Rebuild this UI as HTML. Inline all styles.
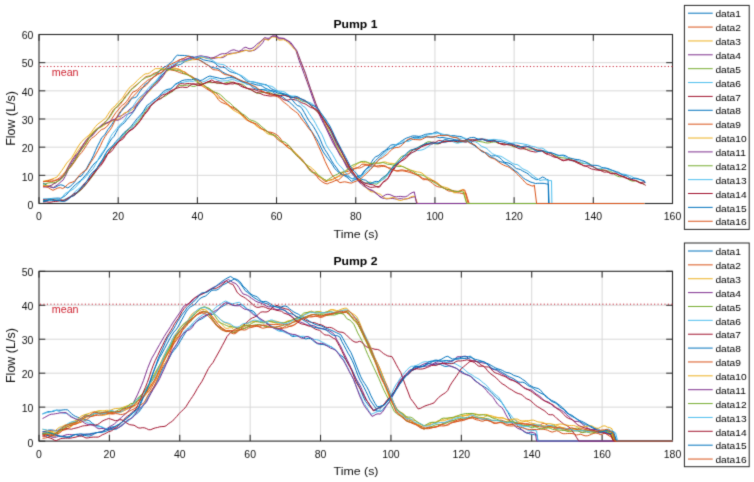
<!DOCTYPE html>
<html><head><meta charset="utf-8"><style>
html,body{margin:0;padding:0;background:#fff;width:754px;height:482px;overflow:hidden}
svg{display:block}
text{font-family:"Liberation Sans",sans-serif}
.tk{font-size:10.2px;fill:#111}
.lb{font-size:11.8px;fill:#111}
.yl{font-size:12.5px;fill:#111}
.tt{font-size:11.6px;font-weight:bold;fill:#000}
.lg{font-size:9.3px;fill:#000}
.mn{font-size:10.4px;fill:#cc1f2d}
</style></head><body>
<svg width="754" height="482" viewBox="0 0 754 482">
<defs><filter id="soft" x="0" y="0" width="754" height="482" filterUnits="userSpaceOnUse" color-interpolation-filters="sRGB"><feConvolveMatrix order="3" kernelMatrix="0.0169 0.0962 0.0169 0.0962 0.5476 0.0962 0.0169 0.0962 0.0169" edgeMode="duplicate"/></filter></defs>
<g filter="url(#soft)">
<rect width="754" height="482" fill="#fff"/>
<path d="M118.19 34.5V203.5M197.38 34.5V203.5M276.56 34.5V203.5M355.75 34.5V203.5M434.94 34.5V203.5M514.12 34.5V203.5M593.31 34.5V203.5M39.0 175.33H672.5M39.0 147.17H672.5M39.0 119.00H672.5M39.0 90.83H672.5M39.0 62.67H672.5" stroke="#d8d8d8" stroke-width="1" fill="none"/>
<path d="M39.00 203.5v-6.3M39.00 34.5v6.3M118.19 203.5v-6.3M118.19 34.5v6.3M197.38 203.5v-6.3M197.38 34.5v6.3M276.56 203.5v-6.3M276.56 34.5v6.3M355.75 203.5v-6.3M355.75 34.5v6.3M434.94 203.5v-6.3M434.94 34.5v6.3M514.12 203.5v-6.3M514.12 34.5v6.3M593.31 203.5v-6.3M593.31 34.5v6.3M672.50 203.5v-6.3M672.50 34.5v6.3M39.0 203.50h6.3M672.5 203.50h-6.3M39.0 175.33h6.3M672.5 175.33h-6.3M39.0 147.17h6.3M672.5 147.17h-6.3M39.0 119.00h6.3M672.5 119.00h-6.3M39.0 90.83h6.3M672.5 90.83h-6.3M39.0 62.67h6.3M672.5 62.67h-6.3M39.0 34.50h6.3M672.5 34.50h-6.3" stroke="#262626" stroke-width="1" fill="none"/>
<rect x="39.0" y="34.5" width="633.5" height="169.0" stroke="#262626" stroke-width="1.1" fill="none"/>
<text transform="translate(39.00 220.10) scale(1.03 1)" class="tk" text-anchor="middle">0</text>
<text transform="translate(118.19 220.10) scale(1.03 1)" class="tk" text-anchor="middle">20</text>
<text transform="translate(197.38 220.10) scale(1.03 1)" class="tk" text-anchor="middle">40</text>
<text transform="translate(276.56 220.10) scale(1.03 1)" class="tk" text-anchor="middle">60</text>
<text transform="translate(355.75 220.10) scale(1.03 1)" class="tk" text-anchor="middle">80</text>
<text transform="translate(434.94 220.10) scale(1.03 1)" class="tk" text-anchor="middle">100</text>
<text transform="translate(514.12 220.10) scale(1.03 1)" class="tk" text-anchor="middle">120</text>
<text transform="translate(593.31 220.10) scale(1.03 1)" class="tk" text-anchor="middle">140</text>
<text transform="translate(672.50 220.10) scale(1.03 1)" class="tk" text-anchor="middle">160</text>
<text transform="translate(33.40 208.90) scale(1.03 1)" class="tk" text-anchor="end">0</text>
<text transform="translate(33.40 180.60) scale(1.03 1)" class="tk" text-anchor="end">10</text>
<text transform="translate(33.40 152.30) scale(1.03 1)" class="tk" text-anchor="end">20</text>
<text transform="translate(33.40 124.00) scale(1.03 1)" class="tk" text-anchor="end">30</text>
<text transform="translate(33.40 95.70) scale(1.03 1)" class="tk" text-anchor="end">40</text>
<text transform="translate(33.40 67.40) scale(1.03 1)" class="tk" text-anchor="end">50</text>
<text transform="translate(33.40 39.10) scale(1.03 1)" class="tk" text-anchor="end">60</text>
<polyline points="43.0,183.1 46.5,185.0 48.8,186.4 51.2,186.9 53.5,187.7 55.9,187.1 58.3,185.6 60.7,184.8 63.1,185.4 65.4,186.8 67.8,187.9 70.2,186.4 72.6,184.3 75.0,181.5 77.0,178.2 79.1,176.6 81.2,176.1 83.1,173.6 85.0,170.7 86.8,168.1 89.0,163.8 91.2,160.1 93.3,155.8 95.5,150.5 97.6,145.8 99.7,141.9 101.7,137.7 104.8,134.8 108.1,129.3 110.0,127.0 111.9,124.3 113.8,121.2 115.7,118.7 117.6,116.4 119.5,113.8 121.3,111.3 123.0,109.0 125.3,106.9 127.5,104.8 129.2,102.4 131.0,99.2 132.9,97.9 134.7,97.7 136.6,96.8 138.5,93.7 140.4,90.8 142.2,88.6 143.9,86.0 145.5,83.9 147.8,82.6 150.0,80.5 151.6,79.0 153.2,77.7 155.5,75.2 157.7,72.9 159.9,70.8 162.1,68.4 164.2,67.2 166.3,66.1 168.5,64.4 170.7,62.8 172.9,60.5 175.1,57.2 177.3,55.2 179.7,55.4 182.1,55.4 184.6,55.5 187.1,55.9 189.4,56.3 191.7,56.6 194.0,57.2 196.3,58.2 198.7,59.8 201.1,60.8 203.5,62.2 205.9,64.1 208.3,65.3 210.7,66.8 213.1,67.8 215.6,68.0 218.0,68.5 220.4,70.3 222.9,72.2 225.4,73.5 227.9,74.7 230.4,76.1 232.9,77.0 235.4,77.8 237.8,79.3 240.3,80.4 242.8,81.3 245.3,83.1 247.5,84.4 249.7,84.3 251.8,83.6 254.0,84.1 256.2,84.8 258.3,85.2 260.5,85.3 262.7,86.4 264.9,88.0 267.2,89.0 269.4,89.9 271.6,91.1 273.8,92.6 275.9,94.3 278.1,95.4 280.4,96.0 282.7,97.0 285.0,98.8 287.3,100.8 289.5,102.1 291.8,104.2 294.1,106.4 296.4,108.7 298.6,110.9 300.9,113.3 303.1,117.3 305.3,120.8 307.5,124.4 309.8,128.5 312.0,131.9 314.2,135.3 316.5,138.7 318.7,142.6 320.9,147.4 323.2,151.9 325.4,155.1 327.7,158.4 330.0,161.2 332.3,164.5 334.6,168.3 336.7,170.6 338.9,172.4 341.1,173.7 343.2,174.8 345.4,175.3 347.6,176.3 349.8,177.5 352.0,178.8 354.3,178.0 356.5,176.7 358.8,175.9 361.0,175.6 363.1,172.5 365.3,169.8 367.4,168.0 369.5,165.4 371.7,161.7 373.8,158.5 375.9,156.6 378.1,155.8 380.2,154.0 382.3,152.1 384.4,150.9 386.5,149.4 388.6,147.1 390.7,145.2 393.0,144.7 395.4,144.9 397.7,144.1 400.0,142.1 402.1,140.7 404.1,139.4 406.2,138.2 408.2,137.5 410.3,136.7 412.3,136.0 414.4,135.9 416.6,136.1 418.9,136.4 421.1,136.1 423.4,135.1 425.6,134.3 427.9,134.0 430.1,133.7 432.4,133.6 434.6,132.5 436.9,131.9 439.2,133.3 441.4,134.9 443.5,135.1 445.6,135.0 447.6,135.4 449.7,135.8 451.8,135.7 453.8,135.6 455.9,136.0 457.8,136.3 459.8,136.4 461.8,136.8 463.7,138.1 465.7,139.4 468.3,140.8 471.0,142.0 472.9,144.0 474.9,146.0 476.9,147.3 478.9,148.8 480.9,150.4 482.8,151.3 484.8,152.6 486.8,154.5 488.7,156.1 490.7,157.1 492.7,157.7 494.7,158.5 496.7,159.6 498.7,161.1 500.7,161.8 502.8,162.3 504.8,163.3 506.8,164.3 508.9,165.8 510.9,167.4 513.0,169.2 515.0,170.8 517.1,172.0 519.2,173.8 521.3,176.0 523.5,178.1 525.7,179.6 527.9,180.6 530.1,181.9 532.8,182.7 535.5,183.5 537.7,183.3 539.8,183.3 542.0,183.3 544.2,183.4 546.4,183.9 548.4,184.2 549.1,203.5 644.4,203.5" stroke="#0072BD" stroke-width="1.0" fill="none" stroke-opacity="1.0" stroke-linejoin="round"/>
<polyline points="43.0,181.5 46.8,181.3 49.1,181.7 51.4,181.6 53.7,181.2 56.1,180.3 58.4,179.6 60.8,178.7 63.1,175.7 65.4,172.7 67.7,170.3 70.1,167.6 72.4,164.5 74.8,160.4 77.1,155.9 79.5,152.4 81.8,149.0 84.2,145.7 86.6,141.9 88.9,137.9 91.0,135.9 93.0,133.8 95.0,131.4 97.1,129.7 99.2,127.9 101.3,125.5 103.9,122.8 106.6,120.7 108.8,117.6 111.1,113.8 113.3,109.9 115.6,108.0 117.9,106.5 120.2,104.4 122.5,101.2 124.2,97.9 125.9,95.6 128.2,93.2 130.6,90.1 132.8,87.7 135.1,85.9 137.4,84.2 139.4,82.6 141.4,80.6 143.4,78.9 145.4,77.0 147.8,76.2 150.1,75.9 152.0,74.7 153.9,73.3 155.8,72.7 157.7,72.1 159.6,70.7 161.5,70.1 163.4,69.9 165.4,69.1 167.3,68.3 169.6,68.8 171.9,69.2 174.2,69.0 176.5,68.9 178.7,69.3 180.9,70.4 182.9,71.5 184.9,71.9 187.2,73.7 189.4,75.8 191.7,77.0 193.9,77.8 196.2,79.4 198.3,82.5 200.4,85.1 202.5,86.2 204.6,87.5 206.7,88.9 208.8,90.2 211.0,91.5 213.4,93.4 215.8,95.9 218.2,99.4 220.5,101.8 222.9,102.9 225.3,103.9 227.7,104.8 230.1,106.5 232.5,108.3 234.9,109.3 237.3,110.7 239.6,112.7 242.0,114.9 244.3,117.8 246.7,120.0 249.0,121.2 251.3,122.2 253.7,123.1 256.0,124.7 258.3,127.2 260.4,128.6 262.5,129.3 264.6,129.9 266.7,131.0 268.7,132.0 270.8,132.2 272.9,132.8 274.9,133.7 277.0,135.0 279.0,136.7 281.0,139.3 283.0,142.5 285.0,144.7 287.0,145.4 289.0,145.8 291.0,147.9 293.0,150.4 295.1,152.7 297.1,154.9 299.1,156.7 301.1,158.3 303.2,160.7 305.2,163.7 307.2,166.3 309.2,168.3 311.3,170.1 313.3,171.8 315.3,173.8 317.4,176.0 319.5,177.1 321.7,178.5 323.8,180.5 326.0,181.7 328.3,180.5 330.7,179.8 333.0,179.2 335.4,178.1 337.7,176.9 339.8,175.0 342.0,172.9 344.1,171.7 346.2,171.6 348.4,171.3 350.5,170.2 352.7,168.9 354.9,168.3 357.2,167.8 359.5,166.5 361.8,164.3 364.0,164.2 366.1,164.7 368.3,164.8 370.5,164.5 372.6,164.6 374.8,165.6 377.0,166.9 379.3,166.9 381.6,166.4 383.8,166.3 386.1,166.9 388.5,167.7 390.8,168.2 393.2,169.4 395.5,170.8 397.8,171.2 400.2,170.9 402.5,170.8 404.8,171.2 407.1,171.7 409.4,172.4 411.8,173.1 414.1,173.8 416.4,174.8 418.8,176.1 421.1,178.1 423.4,179.7 425.7,179.6 428.0,179.9 430.3,181.6 432.6,183.4 434.9,185.3 437.2,186.5 439.5,187.1 441.8,187.4 444.1,188.3 446.4,189.8 448.6,191.0 450.9,191.2 453.2,191.5 455.5,192.6 457.5,192.8 459.6,192.9 461.7,193.5 463.7,193.8 465.8,192.7 467.5,198.3 469.2,203.5 644.4,203.5" stroke="#D95319" stroke-width="1.0" fill="none" stroke-opacity="1.0" stroke-linejoin="round"/>
<polyline points="43.0,181.3 47.3,180.4 49.7,180.0 52.1,179.0 54.5,178.1 56.9,177.1 59.3,174.0 61.8,170.5 64.2,167.0 66.7,163.1 69.1,160.4 71.6,157.8 74.1,153.7 76.6,149.1 79.1,145.0 81.7,141.6 84.2,139.2 86.7,137.0 88.9,135.2 91.1,132.6 93.3,129.5 95.5,126.5 97.8,124.1 100.0,122.5 102.8,120.4 105.6,118.2 108.0,114.3 110.4,110.6 112.7,107.8 115.1,106.1 117.5,103.0 119.9,100.7 122.3,98.4 124.1,95.4 125.8,92.7 128.1,89.5 130.5,86.6 132.8,85.0 135.0,83.0 137.3,80.5 139.3,78.5 141.3,77.0 143.2,75.3 145.2,73.9 147.5,73.7 149.7,72.9 151.6,71.3 153.4,70.0 155.2,68.7 157.1,68.7 158.9,68.6 160.8,68.1 162.6,68.5 164.4,69.1 166.3,68.7 168.5,68.5 170.8,68.1 173.0,67.9 175.3,68.2 177.4,68.8 179.5,69.4 181.5,70.4 183.5,71.6 185.7,73.4 187.9,74.7 190.1,76.4 192.3,78.2 194.5,79.3 196.6,80.4 198.7,82.5 200.8,84.8 202.8,85.9 204.9,86.6 207.0,87.7 209.1,88.4 211.5,90.0 213.8,92.9 216.2,95.9 218.6,97.9 221.0,98.8 223.4,100.4 225.7,103.0 228.1,105.4 230.5,107.7 232.9,109.8 235.3,111.3 237.7,112.6 240.1,114.0 242.4,116.0 244.8,118.2 247.2,119.9 249.7,121.2 252.1,122.2 254.5,124.1 256.9,126.4 259.1,127.6 261.3,128.6 263.5,130.1 265.7,132.4 267.9,133.9 270.1,134.5 272.3,135.2 274.5,135.7 276.6,136.9 278.8,138.5 280.9,140.9 283.1,143.2 285.2,145.2 287.3,147.2 289.5,148.6 291.6,149.8 293.7,151.3 295.9,153.2 298.0,155.3 300.1,158.0 302.2,160.9 304.3,163.1 306.3,164.6 308.4,165.9 310.5,167.1 312.5,168.8 314.6,170.5 316.6,173.1 318.6,176.1 320.7,177.8 322.9,178.9 325.0,179.8 327.1,180.8 329.4,180.3 331.6,180.1 333.9,178.9 336.2,177.1 338.4,176.6 340.5,175.9 342.5,174.4 344.5,172.6 346.6,170.8 348.6,169.4 350.7,168.4 352.8,167.2 355.0,165.7 357.2,163.9 359.4,162.7 361.6,162.1 363.7,162.6 365.8,162.8 367.9,162.8 370.0,163.3 372.1,163.6 374.2,163.6 376.3,163.4 378.5,163.0 380.8,162.6 383.0,162.1 385.2,161.9 387.5,162.7 389.8,163.3 392.1,163.3 394.4,163.9 396.7,164.4 399.0,165.0 401.3,165.9 403.5,167.1 405.8,168.1 408.1,168.8 410.4,169.9 412.7,170.6 415.0,171.3 417.3,172.0 419.6,172.2 421.9,173.0 424.1,174.9 426.4,176.7 428.7,177.9 430.9,179.0 433.2,180.7 435.5,181.7 437.8,183.0 440.0,185.2 442.3,186.7 444.5,187.1 446.8,187.7 449.0,188.6 451.3,190.5 453.5,192.8 455.5,192.7 457.5,191.8 459.5,190.7 461.5,189.9 463.5,189.7 465.1,196.4 466.8,203.5 644.4,203.5" stroke="#EDB120" stroke-width="1.0" fill="none" stroke-opacity="1.0" stroke-linejoin="round"/>
<polyline points="43.0,185.6 46.5,185.7 48.8,186.4 51.1,187.2 53.4,187.7 55.3,186.3 57.2,185.0 59.1,183.4 61.1,181.6 63.0,180.2 65.2,176.4 67.5,171.6 69.7,166.6 72.0,162.7 74.2,159.3 76.5,155.6 78.4,152.7 80.3,149.7 82.2,146.5 84.2,143.6 86.2,140.9 88.2,138.4 90.2,136.3 92.2,134.0 94.3,131.4 96.7,129.0 99.2,127.2 101.4,126.0 103.5,124.6 105.7,123.4 108.0,122.9 110.2,121.9 112.2,120.7 114.3,119.5 116.3,117.7 118.3,116.6 120.3,116.1 122.4,115.1 124.4,113.9 126.5,112.5 128.8,110.1 131.2,108.2 133.5,107.0 135.6,105.1 137.6,102.6 139.7,99.8 141.7,97.0 143.7,94.7 145.7,92.3 147.6,91.0 149.6,90.0 151.6,88.3 153.5,86.1 155.9,83.7 158.2,80.8 160.6,77.4 162.9,74.2 165.2,71.7 167.5,69.9 169.9,68.8 172.2,66.8 174.5,64.9 176.9,63.3 179.0,62.1 181.2,61.2 183.2,60.8 185.3,60.0 187.3,58.8 189.7,57.6 192.2,57.2 194.6,57.5 196.9,57.9 199.1,57.3 201.4,56.6 203.8,57.3 206.2,57.9 208.6,58.2 211.1,58.8 213.4,58.5 215.8,58.0 218.2,57.6 220.6,57.7 222.9,57.5 225.3,56.2 227.7,54.4 230.1,53.3 232.4,53.2 234.8,53.0 237.2,52.7 239.5,52.0 241.8,51.0 244.2,50.3 246.5,50.4 248.5,51.1 250.5,51.1 252.5,50.6 254.4,50.3 256.9,48.4 259.3,46.4 261.1,44.7 262.9,42.4 264.7,39.3 266.8,39.3 268.9,39.7 270.6,37.7 272.4,36.1 274.2,36.1 276.0,36.2 278.5,38.8 280.9,38.8 283.3,38.6 285.4,39.8 287.4,40.9 289.5,42.4 291.5,44.8 293.6,47.2 295.6,49.4 297.4,55.2 299.3,61.0 301.8,67.7 304.3,74.4 306.8,81.2 309.3,88.1 312.0,95.9 314.8,103.7 317.0,109.0 319.2,114.4 321.4,119.2 323.6,123.5 325.9,128.0 328.3,133.0 330.7,138.2 333.0,143.0 335.4,147.1 337.7,150.6 340.1,154.2 342.5,158.3 344.8,163.3 347.2,167.9 349.6,170.5 351.9,173.2 354.3,176.2 356.7,179.5 359.1,182.3 361.4,184.1 363.8,186.2 366.1,187.5 368.4,188.9 370.8,190.4 373.1,191.5 375.4,193.0 377.8,194.8 380.1,196.9 382.4,198.2 384.5,198.4 386.5,198.9 388.6,198.7 390.6,198.5 392.7,198.5 394.7,198.8 396.8,199.2 399.0,198.8 401.3,198.7 403.5,199.2 405.7,199.0 408.0,198.7 410.2,197.9 412.5,197.3 414.8,196.5 417.1,203.5 644.4,203.5" stroke="#7E2F8E" stroke-width="1.0" fill="none" stroke-opacity="1.0" stroke-linejoin="round"/>
<polyline points="43.0,200.7 47.7,200.0 50.1,199.3 52.5,199.3 54.9,200.0 57.3,200.3 59.7,200.6 62.0,200.6 64.4,199.5 66.8,198.8 69.1,197.8 71.5,196.2 73.9,195.0 76.2,193.7 78.6,192.1 80.9,190.0 83.3,187.5 85.7,184.7 88.0,181.9 90.4,178.9 92.8,175.9 95.1,172.6 97.2,168.5 99.4,165.0 101.5,161.8 103.6,158.5 105.7,155.5 107.7,153.8 109.8,151.3 111.8,148.0 113.9,145.6 115.9,143.8 118.0,141.5 120.0,139.0 122.1,136.4 124.2,133.9 126.8,131.2 129.5,128.9 131.5,126.9 133.5,125.3 135.5,124.3 137.5,122.4 139.5,119.7 141.6,116.7 143.6,113.9 145.7,110.5 147.8,107.4 149.8,106.0 151.9,104.7 153.9,103.1 156.0,101.0 158.0,99.2 159.9,98.5 161.9,97.7 163.8,96.7 166.1,95.6 168.4,93.8 170.7,92.5 173.0,91.3 175.3,89.0 177.5,87.0 179.7,85.6 182.1,85.6 184.4,85.5 186.8,85.2 189.1,85.0 191.2,86.0 193.2,86.5 195.3,86.2 197.4,85.2 199.5,84.8 201.9,84.2 204.3,83.6 206.7,82.9 209.1,82.5 211.5,82.7 213.8,82.6 216.2,82.9 218.6,83.2 220.9,83.6 223.3,83.5 225.7,82.8 228.1,82.1 230.5,81.9 232.9,82.4 235.2,83.8 237.6,84.4 240.0,84.1 242.3,84.2 244.7,85.8 247.0,88.2 249.4,89.5 251.7,90.0 254.1,91.3 256.4,93.2 258.8,93.3 261.2,92.7 263.5,92.5 265.9,92.7 268.2,92.4 270.6,92.9 272.9,94.1 275.2,94.7 277.5,94.3 279.9,93.8 282.1,94.0 284.3,94.8 286.5,95.7 288.7,96.4 290.9,96.7 293.1,97.3 295.1,98.2 297.1,98.6 299.1,99.5 301.1,100.7 303.1,101.4 305.1,101.8 307.1,102.5 309.2,104.0 311.3,105.8 313.4,108.2 315.5,110.1 317.8,112.1 320.1,114.2 322.3,117.1 324.6,120.8 326.9,124.8 329.2,129.5 331.5,133.8 333.8,138.5 336.1,143.7 338.4,149.2 340.6,154.2 342.8,158.2 345.0,161.8 347.2,166.2 349.4,169.8 351.7,173.0 353.9,175.6 356.1,178.4 358.5,179.0 360.8,179.9 363.2,182.1 365.6,183.1 367.9,182.6 370.2,182.1 372.4,183.0 374.6,183.8 376.8,184.2 379.1,182.4 381.3,180.4 383.5,178.1 385.7,176.1 387.9,173.3 390.1,170.3 392.3,167.4 394.5,164.2 396.8,161.9 399.1,159.1 401.4,156.5 403.7,155.7 406.0,155.3 408.3,153.1 410.6,150.6 412.6,149.9 414.5,149.7 416.5,149.0 418.5,147.0 420.7,145.8 423.0,144.9 425.2,143.2 427.5,141.9 429.7,141.7 431.9,142.3 434.2,143.6 436.4,144.0 438.6,143.8 440.8,142.9 443.1,141.6 445.3,141.3 447.5,141.3 449.8,141.2 452.0,140.8 454.3,140.9 456.5,142.1 458.8,142.7 461.0,142.0 463.2,141.5 465.5,141.3 467.7,140.2 469.9,139.9 472.2,140.0 474.3,140.4 476.5,141.1 478.7,141.4 480.8,141.7 483.0,142.0 485.2,142.7 487.3,143.0 489.5,142.8 491.6,142.3 493.8,141.9 495.7,142.1 497.6,143.0 499.6,143.5 501.7,143.7 503.8,144.0 505.9,144.3 507.9,144.5 510.0,144.9 512.0,146.1 514.1,147.0 516.2,146.7 518.2,146.3 520.3,147.0 522.4,148.1 524.5,149.0 526.5,149.3 528.6,149.1 530.8,149.0 532.9,149.1 535.1,149.5 537.2,150.3 539.3,150.7 541.5,150.6 543.6,151.3 545.8,152.1 547.9,152.3 550.1,153.2 552.3,154.4 554.4,155.4 556.6,156.3 558.8,157.2 561.0,157.7 563.1,157.8 565.3,158.2 567.5,158.5 569.6,158.5 571.8,159.5 573.9,161.0 576.1,161.9 578.3,162.5 580.4,162.8 582.6,163.4 584.7,163.5 586.9,162.9 589.1,163.4 591.2,165.3 593.4,167.1 595.5,168.4 597.7,169.1 599.9,169.1 602.0,169.5 604.2,170.5 606.4,171.1 608.5,171.0 610.7,171.4 612.9,173.0 615.0,174.8 617.2,176.1 619.4,176.8 621.5,176.8 623.7,176.9 625.8,177.7 628.0,179.1 630.1,180.4 632.3,181.1 634.4,181.0 636.6,180.8 638.7,181.6 640.9,182.9 643.0,183.7 644.2,184.8" stroke="#77AC30" stroke-width="1.0" fill="none" stroke-opacity="1.0" stroke-linejoin="round"/>
<polyline points="43.0,201.8 47.1,201.2 49.4,200.5 51.7,200.5 54.1,200.6 56.4,200.5 58.8,200.8 61.1,201.0 63.5,200.0 65.8,198.9 68.2,197.6 70.5,196.2 72.9,194.4 75.3,191.4 77.6,189.6 80.0,187.9 82.4,185.5 84.7,183.2 87.1,181.1 89.5,178.4 91.9,175.0 94.4,172.0 96.5,168.8 98.6,165.9 100.8,163.0 102.9,158.8 105.1,154.3 107.2,151.6 109.3,149.2 111.3,147.1 113.4,145.2 115.5,143.4 117.6,141.4 119.7,139.0 121.8,136.6 123.9,134.6 126.6,132.8 129.2,131.3 131.2,129.4 133.2,126.1 135.3,123.1 137.3,120.6 139.3,118.5 141.4,115.6 143.5,112.2 145.6,109.2 147.7,107.1 149.7,105.9 151.8,103.8 153.9,101.6 155.9,99.3 158.0,97.0 159.9,95.7 161.8,94.3 163.8,93.0 166.1,91.9 168.4,90.6 170.8,89.0 173.1,87.0 175.4,84.7 177.7,83.6 180.0,82.9 182.4,82.5 184.8,81.9 187.2,81.5 189.6,81.1 191.7,81.5 193.8,81.2 196.0,80.3 198.1,80.7 200.2,82.0 202.7,81.9 205.2,81.1 207.7,79.7 210.2,78.2 212.6,78.4 215.1,78.9 217.5,80.1 220.0,81.0 222.4,81.0 224.9,80.8 227.3,80.8 229.8,79.9 232.3,79.6 234.7,80.1 237.2,81.1 239.6,81.3 242.1,82.0 244.5,83.2 246.9,84.2 249.3,84.8 251.7,85.3 254.2,86.5 256.5,88.4 258.9,89.6 261.3,89.6 263.7,89.6 266.1,89.2 268.5,89.6 270.9,91.1 273.2,91.6 275.5,91.2 277.9,91.0 280.2,91.2 282.5,91.5 284.7,92.1 286.9,93.7 289.1,95.4 291.2,96.2 293.4,96.0 295.6,96.1 297.5,97.1 299.5,98.6 301.4,100.3 303.4,101.3 305.3,101.3 307.3,101.7 309.2,102.4 311.3,103.2 313.4,104.7 315.4,107.1 317.5,109.1 319.7,112.2 321.9,115.0 324.1,118.3 326.3,121.8 328.6,126.0 330.8,131.7 333.0,136.7 335.3,141.4 337.5,145.8 339.8,149.5 341.9,153.0 344.0,157.2 346.2,161.9 348.3,166.5 350.5,170.5 352.7,174.3 354.9,177.3 357.1,180.3 359.4,181.3 361.7,181.7 364.0,182.5 366.3,183.2 368.7,183.6 370.9,183.2 373.1,183.1 375.3,182.9 377.5,182.7 379.7,180.9 381.9,180.1 384.1,178.9 386.3,176.9 388.5,174.0 390.7,171.2 393.0,168.2 395.2,165.1 397.5,162.7 399.8,160.3 402.1,158.1 404.5,156.1 406.8,155.2 409.2,154.7 411.5,153.2 413.6,151.5 415.6,150.5 417.7,150.5 419.7,150.3 422.0,149.9 424.4,149.0 426.7,147.6 429.0,146.0 431.3,144.3 433.6,143.3 435.9,143.3 438.2,143.1 440.5,142.5 442.8,142.4 445.0,142.6 447.3,141.8 449.6,141.3 451.9,141.3 454.1,142.2 456.4,143.2 458.6,142.9 460.9,142.3 463.1,142.0 465.3,141.8 467.5,141.8 469.7,141.1 471.9,140.3 474.1,139.6 476.2,138.9 478.3,138.5 480.4,138.6 482.5,138.8 484.6,139.0 486.7,139.5 488.8,139.8 490.9,139.7 493.0,139.4 495.1,139.4 497.0,139.8 498.8,140.0 500.7,140.1 502.8,140.4 504.8,140.9 506.9,141.6 508.9,142.5 510.9,143.2 512.9,143.1 514.9,142.9 516.9,142.9 519.0,143.3 521.0,143.6 523.0,143.9 525.0,144.3 527.1,144.7 529.1,145.3 531.2,146.2 533.3,146.5 535.4,147.0 537.5,147.9 539.6,148.3 541.7,148.1 543.8,148.8 545.8,150.5 547.9,152.1 550.1,153.1 552.2,153.5 554.3,153.7 556.4,154.6 558.6,155.7 560.7,155.8 562.8,155.5 564.9,156.8 567.0,158.5 569.1,159.8 571.3,160.7 573.4,161.0 575.5,160.7 577.6,160.6 579.7,161.5 581.8,162.5 583.9,163.3 586.0,163.6 588.1,164.1 590.3,165.1 592.4,166.4 594.5,167.5 596.6,168.2 598.8,169.0 600.9,168.7 603.1,167.8 605.2,167.9 607.4,169.1 609.6,169.9 611.8,170.5 613.9,171.4 616.1,172.3 618.4,173.3 620.6,174.0 622.8,174.1 625.0,174.3 627.2,175.0 629.5,175.5 631.7,176.5 634.0,177.9 636.2,178.9 638.5,179.2 640.7,179.8 643.0,181.1 644.3,182.6" stroke="#4DBEEE" stroke-width="1.0" fill="none" stroke-opacity="1.0" stroke-linejoin="round"/>
<polyline points="43.0,199.5 45.3,199.4 47.5,199.1 49.8,198.8 52.1,199.1 54.3,199.9 56.6,200.4 58.9,199.9 61.2,199.8 63.5,200.5 65.8,199.5 68.1,198.0 70.4,197.1 72.7,196.1 75.0,195.0 77.3,192.7 79.6,190.0 82.0,186.8 84.3,183.6 86.6,181.4 89.0,179.0 91.4,176.2 93.7,172.9 96.1,169.5 98.2,166.6 100.4,164.4 102.5,161.9 104.6,158.4 106.8,154.9 108.8,153.2 110.9,151.9 112.9,149.6 115.0,146.4 117.1,143.7 119.1,141.3 121.2,140.1 123.3,138.6 125.4,135.5 128.0,131.7 130.6,129.7 132.6,129.1 134.6,127.5 136.5,125.2 138.5,122.8 140.4,120.5 142.5,117.4 144.5,114.6 146.5,112.5 148.6,109.7 150.5,106.5 152.5,103.8 154.6,101.9 156.6,100.6 158.6,99.6 160.4,98.9 162.3,97.6 164.2,95.7 166.5,93.6 168.8,92.0 171.1,90.6 173.4,89.5 175.7,88.5 178.0,87.9 180.3,87.3 182.6,87.1 185.0,87.4 187.4,87.4 189.8,85.6 191.9,84.0 194.0,83.8 196.1,84.7 198.2,85.5 200.3,85.6 202.8,84.4 205.2,83.0 207.6,81.8 210.1,81.4 212.4,82.5 214.8,82.2 217.2,81.5 219.5,82.2 221.9,83.4 224.2,83.8 226.6,84.0 228.9,83.4 231.3,82.6 233.6,82.2 235.9,83.1 238.2,84.4 240.5,86.0 242.8,87.1 245.0,87.7 247.3,88.2 249.6,88.9 251.8,90.3 254.1,91.7 256.4,92.5 258.7,92.8 261.0,93.8 263.3,94.9 265.6,95.4 267.9,95.7 270.2,96.1 272.5,95.9 274.8,95.7 277.2,95.7 279.5,96.6 281.7,98.2 284.0,99.8 286.3,100.3 288.5,99.9 290.8,99.2 293.1,99.4 295.3,100.0 297.4,100.4 299.5,101.5 301.7,102.8 303.8,103.4 306.0,104.3 308.1,105.8 310.4,107.3 312.7,108.1 314.9,109.4 317.2,111.4 319.6,114.7 322.0,117.7 324.4,121.2 326.9,124.5 329.3,127.2 331.7,131.9 334.0,137.5 336.4,142.5 338.8,146.9 341.2,151.2 343.4,155.4 345.6,159.3 347.9,163.5 350.1,168.0 352.3,171.2 354.6,174.4 356.8,177.1 359.0,179.6 361.4,181.0 363.8,182.7 366.1,183.5 368.5,184.0 370.9,184.6 373.1,184.8 375.3,186.1 377.6,187.2 379.8,186.9 382.0,183.5 384.3,180.9 386.5,179.3 388.8,177.2 391.0,173.3 393.2,170.1 395.4,167.4 397.6,164.2 399.9,162.1 402.2,160.0 404.5,157.8 406.8,155.7 409.1,153.7 411.4,151.5 413.7,149.4 415.6,149.2 417.6,149.0 419.5,148.1 421.4,146.8 423.6,146.0 425.8,145.2 428.0,144.4 430.2,143.9 432.3,143.9 434.5,143.0 436.6,141.6 438.7,140.5 440.8,140.7 442.9,141.3 445.0,141.2 447.1,141.0 449.3,141.4 451.4,141.3 453.5,141.0 455.6,141.3 457.7,141.8 459.9,141.3 462.0,141.2 464.1,141.9 466.2,142.1 468.4,141.0 470.5,139.9 472.6,139.7 474.7,140.0 476.8,140.2 479.0,139.6 481.1,139.1 483.2,139.3 485.3,139.8 487.5,140.3 489.6,141.1 491.7,140.9 493.9,140.3 495.8,141.3 497.7,142.7 499.7,143.6 501.8,144.4 503.9,144.9 506.1,144.7 508.2,143.9 510.2,143.8 512.3,144.5 514.4,145.2 516.5,145.3 518.6,145.6 520.7,146.7 522.8,147.5 524.9,147.2 527.0,146.7 529.1,146.8 531.3,147.6 533.4,148.6 535.6,149.5 537.7,150.1 539.9,150.1 542.0,150.4 544.2,152.4 546.3,153.7 548.5,153.0 550.7,153.2 552.8,155.1 555.0,156.6 557.2,157.5 559.4,158.7 561.6,159.7 563.8,160.2 566.0,160.2 568.2,159.8 570.4,160.1 572.7,160.4 574.9,160.8 577.1,161.8 579.3,162.9 581.5,164.5 583.7,165.9 585.9,166.0 588.1,165.7 590.3,165.9 592.5,166.4 594.7,167.5 596.9,169.1 599.0,170.0 601.2,170.4 603.4,170.1 605.6,170.3 607.7,171.4 609.9,172.9 612.0,173.4 614.2,173.1 616.3,173.4 618.4,174.8 620.6,176.0 622.7,176.4 624.8,176.8 627.0,178.1 629.1,179.0 631.2,179.5 633.3,179.9 635.4,180.3 637.5,181.7 639.7,182.7 641.8,182.4 643.9,181.9 645.0,182.8" stroke="#A2142F" stroke-width="1.0" fill="none" stroke-opacity="1.0" stroke-linejoin="round"/>
<polyline points="43.0,201.0 46.5,200.5 48.7,199.3 51.0,198.5 53.4,198.3 55.8,198.2 58.2,198.1 60.6,198.3 63.0,197.1 65.4,195.6 67.9,193.0 70.4,189.8 72.9,187.2 75.3,184.8 77.8,182.8 80.3,180.8 82.8,178.3 85.3,175.5 87.9,172.3 90.4,168.7 92.9,165.2 95.4,162.5 97.9,160.4 100.3,157.1 102.6,153.5 104.9,149.9 107.2,146.1 109.5,142.0 111.8,138.6 114.0,136.3 116.1,132.5 118.3,128.5 120.5,125.8 122.6,124.3 124.8,122.3 126.9,119.4 129.1,117.0 131.4,114.4 133.8,111.2 136.1,107.5 138.5,104.2 140.8,100.9 143.1,97.7 145.4,95.0 147.8,91.8 150.1,88.5 152.5,85.6 154.8,83.4 157.1,80.9 159.5,77.8 161.8,75.2 164.1,73.1 166.4,71.0 168.7,69.8 171.1,68.3 173.4,66.9 175.7,65.5 178.1,65.0 180.4,64.5 182.8,63.0 185.1,61.3 187.4,60.4 189.7,59.8 192.1,58.7 194.4,57.4 196.6,57.2 198.9,57.8 201.1,58.7 203.5,59.8 206.0,60.4 208.4,60.8 210.8,61.3 213.2,62.0 215.6,63.6 217.9,66.0 220.3,67.2 222.7,67.1 225.1,67.7 227.5,69.8 229.9,71.6 232.3,72.4 234.6,73.0 237.0,73.7 239.4,74.9 241.7,76.8 244.1,78.9 246.4,80.8 248.5,81.7 250.5,81.7 252.5,81.7 254.6,82.3 256.6,82.8 258.6,83.2 260.7,83.6 262.8,84.3 264.9,84.5 267.0,85.1 269.1,87.1 271.2,88.7 273.3,89.6 275.4,90.5 277.5,91.2 279.8,92.4 282.0,94.0 284.2,95.2 286.5,96.0 288.7,96.6 290.9,98.4 293.2,101.0 295.4,103.8 297.7,105.7 299.9,106.2 302.2,108.8 304.4,112.6 306.7,116.8 308.9,120.7 311.1,123.3 313.4,126.5 315.6,130.3 317.9,134.6 320.2,139.4 322.4,144.9 324.7,149.4 327.0,152.8 329.3,156.6 331.6,160.8 333.9,164.4 336.0,167.1 338.2,170.3 340.4,173.2 342.6,175.1 344.8,175.9 347.0,177.2 349.2,179.2 351.4,181.4 353.6,180.4 355.9,179.1 358.2,178.1 360.4,177.2 362.6,174.2 364.7,170.7 366.9,168.5 369.0,167.4 371.2,165.6 373.3,163.0 375.5,160.5 377.7,158.5 379.8,156.3 382.0,154.2 384.1,152.3 386.3,150.2 388.4,149.0 390.6,148.4 393.0,147.6 395.4,145.8 397.8,144.5 400.2,143.7 402.3,143.0 404.4,141.9 406.5,141.1 408.6,140.0 410.7,138.4 412.8,137.7 414.9,137.2 417.2,137.3 419.5,137.8 421.8,137.6 424.0,136.8 426.3,136.7 428.5,137.0 430.8,137.1 433.0,136.9 435.3,136.6 437.5,137.3 439.8,137.8 442.0,137.4 444.0,137.7 446.1,138.1 448.1,138.4 450.1,138.7 452.1,139.0 454.2,139.6 456.2,139.9 458.1,140.0 460.1,140.0 462.0,140.4 464.0,140.8 465.9,140.9 468.6,142.0 471.2,143.6 473.2,144.9 475.3,145.8 477.3,147.4 479.3,149.3 481.3,151.1 483.3,152.3 485.4,152.7 487.4,153.2 489.4,154.6 491.5,156.0 493.6,155.8 495.6,155.7 497.7,156.5 499.8,157.8 501.8,159.7 503.9,161.9 506.0,162.7 508.1,162.9 510.2,163.8 512.3,164.9 514.3,166.9 516.4,168.6 518.4,169.0 520.5,169.6 522.6,170.9 524.7,172.0 526.8,173.0 529.0,174.6 531.1,176.8 533.7,178.3 536.3,179.6 538.3,179.5 540.3,178.4 542.4,177.0 544.4,177.7 546.4,179.3 548.1,179.7 548.6,203.5 644.4,203.5" stroke="#0072BD" stroke-width="1.0" fill="none" stroke-opacity="1.0" stroke-linejoin="round"/>
<polyline points="43.0,181.8 47.1,181.1 49.6,180.2 52.0,179.9 54.5,180.4 57.0,179.7 59.5,177.8 62.0,175.9 64.4,172.9 66.9,170.5 69.3,168.4 71.8,165.5 74.2,162.4 76.7,158.6 79.2,155.2 81.6,152.6 84.0,149.2 86.5,145.4 88.9,141.6 91.4,138.4 93.4,137.1 95.5,135.5 97.6,133.3 99.7,131.1 101.8,129.4 103.9,128.8 106.5,126.9 109.2,123.7 111.4,119.5 113.7,115.9 115.9,112.6 118.2,110.0 120.5,106.9 122.7,105.0 125.0,103.3 126.6,101.3 128.3,99.1 130.6,95.3 132.8,92.1 135.0,91.3 137.3,89.8 139.5,87.7 141.4,85.7 143.4,83.9 145.3,82.4 147.3,80.5 149.5,79.3 151.8,78.4 153.6,77.1 155.4,75.7 157.3,74.0 159.1,73.3 160.9,72.8 162.8,71.9 164.6,70.6 166.4,68.9 168.3,68.4 170.5,69.9 172.8,70.4 175.0,70.7 177.3,71.6 179.4,72.5 181.5,73.2 183.4,73.7 185.4,73.8 187.6,74.7 189.8,75.5 192.0,76.5 194.2,78.4 196.4,79.9 198.5,80.6 200.6,81.7 202.7,83.7 204.8,85.7 206.9,87.8 209.0,89.7 211.2,90.6 213.6,91.5 216.0,93.0 218.4,95.6 220.8,98.5 223.2,100.3 225.6,102.1 228.1,104.7 230.5,106.6 232.9,107.2 235.3,108.2 237.7,110.3 240.1,112.8 242.5,114.6 244.9,116.8 247.3,119.6 249.7,121.5 252.1,122.6 254.4,123.2 256.8,124.2 259.2,126.2 261.3,128.3 263.4,129.7 265.6,130.6 267.7,131.9 269.8,132.7 271.9,133.7 274.0,135.7 276.2,137.9 278.2,140.0 280.2,141.4 282.3,142.6 284.3,144.4 286.4,146.1 288.4,147.7 290.4,148.9 292.5,150.9 294.5,153.4 296.6,155.7 298.6,157.4 300.6,159.4 302.7,161.2 304.7,163.2 306.7,166.1 308.7,169.1 310.7,171.2 312.8,172.5 314.8,174.0 316.8,176.3 318.8,179.1 320.9,180.7 323.0,182.3 325.1,183.4 327.3,183.9 329.5,182.8 331.8,182.2 334.1,181.1 336.3,180.2 338.6,179.8 340.6,178.2 342.7,175.7 344.7,174.4 346.8,174.2 348.8,173.7 350.9,172.1 352.9,170.0 355.1,168.5 357.3,167.9 359.5,168.1 361.7,167.3 363.8,166.0 365.8,165.2 367.9,165.3 370.0,165.9 372.1,166.2 374.2,166.2 376.3,166.1 378.5,165.7 380.8,165.4 383.0,165.6 385.3,165.9 387.6,167.6 389.9,169.0 392.2,169.6 394.6,170.3 396.9,170.8 399.2,170.3 401.6,169.8 403.9,170.2 406.2,170.7 408.5,170.7 410.9,171.7 413.2,173.1 415.6,174.3 417.9,175.2 420.3,176.4 422.6,178.2 424.9,178.9 427.2,178.9 429.5,179.7 431.8,180.3 434.2,181.1 436.5,182.9 438.8,184.8 441.1,186.2 443.4,187.8 445.6,188.9 447.9,189.4 450.2,189.8 452.4,190.4 454.7,191.1 456.7,191.2 458.7,191.4 460.8,190.8 462.8,189.9 464.8,190.0 466.5,197.3 468.2,203.5 644.4,203.5" stroke="#D95319" stroke-width="1.0" fill="none" stroke-opacity="1.0" stroke-linejoin="round"/>
<polyline points="43.0,185.9 46.6,185.4 49.0,185.8 51.3,185.9 53.3,184.0 55.3,182.8 57.3,181.5 59.4,180.3 61.4,178.6 63.7,174.4 66.1,170.3 68.5,165.9 70.8,161.5 73.2,157.8 75.6,154.0 77.6,151.1 79.7,148.4 81.7,145.9 83.8,143.8 85.9,141.2 88.0,137.8 90.1,135.1 92.3,133.0 94.4,130.7 96.9,128.6 99.5,127.3 101.7,126.8 104.0,125.4 106.2,123.8 108.5,122.7 110.8,121.6 112.8,120.6 114.9,119.7 116.9,119.5 118.9,118.9 121.0,116.7 123.0,114.2 125.0,112.6 127.1,112.1 129.4,111.2 131.7,110.0 134.1,108.1 136.1,105.3 138.1,102.5 140.2,99.6 142.2,97.0 144.1,95.7 146.1,94.5 148.0,92.8 149.9,90.8 151.9,88.2 153.8,85.0 156.1,82.7 158.5,81.2 160.8,79.1 163.1,76.2 165.4,73.0 167.7,70.7 170.0,69.8 172.3,68.2 174.6,66.1 177.0,63.8 179.1,62.0 181.3,61.2 183.3,61.8 185.3,61.5 187.3,61.0 189.7,60.4 192.1,59.8 194.6,59.7 196.8,59.4 199.0,58.2 201.2,57.2 203.6,57.3 206.0,58.1 208.4,58.7 210.8,58.7 213.1,57.9 215.4,57.5 217.7,57.5 220.1,57.5 222.4,56.7 224.7,55.4 227.1,54.7 229.4,54.4 231.7,53.9 234.1,53.3 236.4,52.8 238.7,52.1 241.0,51.8 243.4,51.2 245.7,50.3 247.7,50.6 249.7,51.1 251.7,50.7 253.7,50.0 256.2,47.5 258.7,44.7 260.5,42.3 262.3,40.3 264.2,38.7 266.3,39.6 268.5,40.2 270.3,38.6 272.2,37.0 274.1,37.0 275.9,37.3 278.6,40.1 281.0,40.0 283.5,39.7 285.7,40.7 287.8,42.3 289.9,44.1 292.1,46.6 294.2,49.0 296.3,50.6 298.2,55.2 300.1,60.0 302.6,66.2 305.2,73.2 307.7,81.3 310.3,88.3 313.1,95.5 315.9,103.6 318.1,109.0 320.3,113.6 322.6,118.1 324.8,123.1 327.2,127.9 329.5,132.8 331.9,137.2 334.2,142.0 336.6,146.7 338.9,150.5 341.3,154.6 343.6,158.8 345.9,162.7 348.3,167.0 350.6,170.7 353.0,173.2 355.3,175.2 357.7,178.1 360.0,181.5 362.3,183.7 364.6,185.9 366.9,188.4 369.2,190.7 371.5,191.9 373.9,191.8 376.2,192.6 378.4,193.6 380.7,194.5 383.0,196.8 385.1,198.2 387.1,198.4 389.1,198.3 391.2,197.8 393.2,197.3 395.2,198.0 397.3,199.6 399.5,200.5 401.7,200.3 403.9,199.4 406.1,198.8 408.4,198.3 410.6,197.0 412.9,196.2 415.1,196.7 417.4,203.5 644.4,203.5" stroke="#EDB120" stroke-width="1.0" fill="none" stroke-opacity="1.0" stroke-linejoin="round"/>
<polyline points="43.0,186.9 47.1,187.0 49.5,186.0 51.8,185.1 53.9,183.6 56.0,182.9 58.0,180.9 60.1,178.6 62.1,177.7 64.5,174.4 66.9,169.9 69.3,165.2 71.6,161.1 74.0,157.5 76.4,154.4 78.4,152.4 80.5,149.4 82.5,145.9 84.6,142.4 86.7,139.4 88.8,137.7 90.9,136.7 93.0,134.9 95.1,132.2 97.6,129.3 100.2,126.4 102.4,124.6 104.6,123.9 106.8,122.9 109.1,121.8 111.4,120.4 113.4,119.5 115.4,119.9 117.5,120.3 119.5,119.6 121.5,118.3 123.5,116.9 125.6,115.3 127.6,114.2 129.9,113.2 132.2,112.3 134.5,109.4 136.6,105.2 138.6,102.6 140.6,101.3 142.6,98.9 144.5,96.0 146.5,93.0 148.4,90.8 150.3,89.0 152.2,87.6 154.1,85.9 156.4,84.1 158.8,81.4 161.1,78.5 163.4,75.6 165.6,71.5 167.9,68.4 170.2,67.8 172.5,67.2 174.8,65.6 177.1,62.8 179.2,60.3 181.4,59.0 183.3,59.1 185.3,59.3 187.3,59.0 189.7,58.8 192.1,58.6 194.5,57.4 196.7,56.7 198.9,56.1 201.1,55.8 203.5,56.3 205.9,56.7 208.3,57.1 210.7,57.9 213.0,57.8 215.3,56.8 217.7,55.7 220.0,54.4 222.3,53.7 224.7,53.8 227.1,53.1 229.4,51.4 231.8,50.2 234.1,49.8 236.5,50.7 238.8,51.4 241.2,50.3 243.5,48.1 245.9,47.2 247.9,48.3 250.0,48.9 252.0,48.3 254.1,47.1 256.6,44.4 259.1,42.6 260.9,41.2 262.8,39.3 264.7,37.6 266.9,38.2 269.1,38.3 270.9,36.8 272.8,36.1 274.7,36.1 276.6,36.1 279.2,37.8 281.7,38.1 284.2,38.4 286.3,39.8 288.4,40.9 290.6,42.3 292.6,45.0 294.7,48.1 296.8,50.7 298.6,55.5 300.5,60.6 303.0,67.1 305.5,73.2 307.9,80.8 310.4,88.3 313.1,96.1 315.8,103.6 317.9,108.5 320.0,113.4 322.1,118.4 324.2,123.5 326.5,127.9 328.7,132.3 331.0,136.4 333.2,140.9 335.4,145.9 337.7,150.8 339.9,155.1 342.2,158.3 344.4,161.6 346.7,165.6 349.0,169.2 351.3,172.5 353.6,175.1 355.9,177.7 358.2,180.5 360.5,182.0 362.8,183.6 365.2,186.2 367.5,188.4 369.8,189.5 372.2,190.2 374.5,191.7 376.8,193.8 379.2,196.0 381.5,197.3 383.6,196.0 385.7,194.7 387.8,194.3 389.9,194.6 392.0,195.5 394.1,196.5 396.2,196.9 398.4,196.5 400.7,196.4 403.0,196.8 405.2,196.8 407.5,195.9 409.8,194.0 412.0,192.7 414.3,191.9 416.6,203.5 644.4,203.5" stroke="#7E2F8E" stroke-width="1.0" fill="none" stroke-opacity="1.0" stroke-linejoin="round"/>
<polyline points="43.0,184.3 45.8,183.6 48.3,183.0 50.8,182.7 53.3,182.8 55.9,182.2 58.4,180.9 60.9,179.5 63.4,176.9 65.9,173.5 68.4,169.5 70.9,165.6 73.4,162.5 75.9,158.9 78.4,154.3 80.9,150.4 83.3,147.3 85.8,144.0 88.2,139.9 90.7,135.8 92.8,133.3 94.9,131.0 97.0,129.3 99.1,128.1 101.2,126.7 103.3,124.8 105.9,121.4 108.6,118.6 110.8,115.5 113.0,112.0 115.3,108.4 117.5,106.0 119.8,103.2 122.0,101.0 124.3,99.1 125.9,96.7 127.6,94.8 129.8,91.7 132.0,88.9 134.2,87.4 136.4,85.4 138.6,83.3 140.5,81.3 142.4,79.6 144.4,78.6 146.3,77.4 148.5,76.8 150.8,76.1 152.6,75.1 154.5,74.4 156.3,73.2 158.2,71.7 160.0,70.0 161.9,69.1 163.8,69.2 165.7,69.6 167.6,69.4 169.8,69.4 172.1,69.5 174.4,70.0 176.8,70.6 178.9,70.7 181.1,71.4 183.1,73.1 185.1,74.1 187.4,74.9 189.6,75.6 191.8,77.2 194.1,79.6 196.3,81.7 198.4,83.0 200.5,83.6 202.6,84.3 204.7,85.7 206.8,87.2 208.9,88.2 211.0,89.9 213.4,91.8 215.8,92.5 218.2,93.3 220.6,94.9 223.0,97.1 225.4,99.6 227.8,101.5 230.2,103.2 232.6,105.6 235.0,108.0 237.4,109.7 239.8,111.7 242.2,113.8 244.6,115.2 247.0,117.2 249.4,119.4 251.8,120.5 254.2,121.1 256.6,122.4 259.0,124.2 261.1,126.2 263.3,128.0 265.5,129.7 267.6,132.0 269.8,133.7 271.9,134.4 274.0,134.9 276.2,136.2 278.2,138.5 280.3,140.5 282.3,141.5 284.4,141.9 286.4,143.1 288.4,145.1 290.5,147.5 292.5,150.7 294.5,153.4 296.5,155.2 298.5,156.8 300.5,158.6 302.5,160.8 304.4,162.8 306.4,164.5 308.3,167.3 310.3,170.6 312.2,172.6 314.2,172.7 316.1,173.2 318.1,174.9 320.2,176.4 322.2,177.9 324.3,179.4 326.4,180.6 328.6,179.3 330.8,177.8 333.1,176.2 335.3,175.2 337.6,174.2 339.6,172.7 341.7,172.3 343.7,171.9 345.8,170.6 347.9,169.0 349.9,167.2 352.0,165.5 354.3,164.5 356.5,163.5 358.8,162.6 361.0,161.6 363.2,161.4 365.3,161.4 367.5,162.3 369.6,163.5 371.8,163.5 373.9,162.9 376.1,162.9 378.4,163.3 380.7,163.0 382.9,162.5 385.2,163.2 387.5,164.3 389.9,164.4 392.2,164.8 394.5,165.5 396.8,166.2 399.1,166.5 401.4,166.4 403.7,166.8 406.0,168.2 408.2,169.5 410.5,170.4 412.8,171.2 415.1,172.8 417.4,174.4 419.6,174.7 421.9,175.0 424.1,175.9 426.3,177.4 428.5,179.2 430.8,180.6 433.0,181.8 435.2,183.0 437.5,184.5 439.7,185.9 442.0,187.2 444.2,188.3 446.4,189.3 448.6,189.7 450.9,190.2 453.1,191.0 455.1,191.3 457.2,191.6 459.2,191.4 461.2,191.7 463.3,192.0 465.0,198.2 466.7,203.5 644.4,203.5" stroke="#77AC30" stroke-width="1.0" fill="none" stroke-opacity="1.0" stroke-linejoin="round"/>
<polyline points="43.0,198.9 46.5,198.7 48.7,198.8 50.8,198.7 53.1,198.6 55.5,198.9 57.9,199.4 60.2,199.1 62.6,197.0 64.9,193.7 67.3,192.3 69.6,191.3 72.0,189.9 74.4,188.4 76.7,186.0 79.1,183.2 81.4,180.5 83.8,178.8 86.1,176.6 88.5,173.4 90.8,171.2 93.2,168.6 95.6,164.2 97.9,159.9 100.0,155.9 102.2,152.7 104.3,149.9 106.5,146.2 108.6,141.3 110.8,136.4 112.8,133.3 114.9,130.9 116.9,128.4 119.0,125.6 121.0,123.9 123.1,122.2 125.1,119.3 127.2,115.4 129.5,111.3 131.8,108.1 134.1,104.6 136.5,101.0 138.8,98.1 141.1,96.0 143.5,94.2 145.9,91.3 148.3,88.4 150.7,85.6 153.1,83.6 155.6,81.3 158.0,78.2 160.5,75.0 162.9,71.9 165.4,68.8 167.9,67.5 170.4,66.1 173.0,64.6 175.5,63.5 178.1,62.6 180.7,61.8 183.3,61.5 185.9,60.7 188.5,59.7 191.1,59.1 193.8,58.4 196.4,57.4 198.9,57.0 201.5,56.5 204.0,56.9 206.7,58.0 209.5,58.7 212.2,60.1 214.9,62.0 217.6,63.7 220.2,64.3 222.9,64.5 225.5,65.6 228.1,67.9 230.8,69.7 233.3,71.2 235.9,72.9 238.5,74.4 241.0,75.4 243.6,76.7 246.0,78.8 248.5,80.7 251.0,81.8 253.4,82.2 255.5,82.2 257.5,83.2 259.6,84.1 261.6,84.1 263.7,84.3 265.7,85.4 267.7,85.8 269.7,85.9 271.8,86.4 273.9,87.6 275.9,89.4 278.0,91.3 280.0,92.4 282.0,93.0 284.0,93.9 286.1,94.7 288.3,95.1 290.4,95.7 292.5,96.7 294.6,97.9 296.7,100.0 298.8,102.2 301.0,104.4 303.1,106.2 305.2,107.4 307.2,110.3 309.3,113.8 311.4,116.8 313.5,119.9 315.6,123.5 317.7,127.6 319.7,130.9 321.8,134.3 323.9,139.0 326.0,144.4 328.2,148.2 330.3,151.2 332.4,154.3 334.6,158.1 336.8,162.2 338.8,164.7 340.9,166.8 342.9,168.9 345.0,171.9 347.1,174.2 349.2,176.5 351.3,178.2 353.4,179.2 355.6,178.0 357.8,177.2 359.9,176.6 362.1,175.7 364.2,173.6 366.2,171.8 368.3,170.2 370.4,168.5 372.5,166.3 374.6,164.4 376.7,162.3 378.7,160.0 380.8,157.4 382.9,155.4 385.1,153.9 387.2,151.3 389.3,149.1 391.5,147.8 393.8,146.2 396.2,144.5 398.6,143.1 401.0,141.5 403.2,140.9 405.3,141.4 407.5,141.6 409.6,141.0 411.8,139.8 414.0,138.7 416.1,138.3 418.5,138.5 420.9,137.9 423.3,136.7 425.6,135.7 428.0,134.9 430.4,134.4 432.7,133.8 435.1,133.7 437.5,133.3 439.8,133.1 442.2,134.0 444.5,134.5 446.7,134.5 448.8,134.9 451.0,135.7 453.2,136.6 455.3,137.3 457.5,138.0 459.6,138.3 461.7,138.2 463.7,137.8 465.8,138.4 467.9,139.9 470.0,140.9 472.7,141.5 475.5,141.9 477.7,143.1 479.8,144.9 481.9,146.5 484.0,147.2 486.1,148.1 488.2,149.7 490.3,152.0 492.4,153.7 494.5,154.6 496.6,155.5 498.7,155.9 500.8,156.3 502.8,157.3 504.9,158.7 506.9,159.9 509.0,161.1 511.0,162.3 513.0,163.7 515.0,164.3 517.0,164.5 519.0,165.6 521.0,167.5 522.9,168.9 524.9,169.8 526.8,170.6 528.9,172.0 530.9,173.7 533.0,175.5 535.0,177.2 537.5,178.8 540.0,180.5 541.9,180.1 543.9,179.8 545.9,179.9 547.8,180.1 549.8,180.6 551.5,180.6 551.9,203.5 644.4,203.5" stroke="#4DBEEE" stroke-width="1.0" fill="none" stroke-opacity="1.0" stroke-linejoin="round"/>
<polyline points="43.0,201.9 46.5,201.8 48.8,202.2 51.1,202.1 53.4,201.6 55.6,201.5 57.9,201.2 60.2,200.7 62.5,200.6 64.8,201.0 67.0,199.7 69.3,197.6 71.6,195.7 73.8,193.9 76.1,192.8 78.4,191.3 80.7,189.8 83.0,187.6 85.3,184.9 87.6,182.3 89.9,179.0 92.2,175.8 94.6,172.8 97.0,169.9 99.1,167.4 101.2,165.1 103.3,162.0 105.5,158.4 107.6,154.1 109.7,150.4 111.8,148.2 113.9,146.6 116.0,144.3 118.1,141.9 120.2,140.1 122.3,138.1 124.5,135.7 126.6,133.6 129.3,131.4 132.0,129.4 134.0,127.5 136.0,125.2 138.1,123.3 140.1,120.9 142.1,117.7 144.2,114.4 146.3,111.7 148.4,108.9 150.5,105.8 152.6,104.2 154.6,102.7 156.7,100.5 158.7,98.1 160.8,96.1 162.7,94.9 164.6,94.2 166.5,94.1 168.8,93.1 171.1,91.6 173.4,90.5 175.7,88.2 178.0,85.1 180.3,83.7 182.5,83.7 184.8,84.1 187.2,83.5 189.5,83.5 191.9,84.0 193.9,84.3 196.0,84.0 198.1,83.8 200.1,84.2 202.2,84.4 204.6,83.2 207.0,82.3 209.4,81.1 211.8,79.9 214.2,81.4 216.5,83.0 218.8,83.1 221.2,82.8 223.5,83.6 225.9,84.2 228.2,84.0 230.5,83.8 232.9,84.0 235.2,83.4 237.6,83.3 239.9,84.0 242.2,85.6 244.5,87.2 246.9,88.4 249.2,88.9 251.5,89.0 253.9,89.4 256.2,90.2 258.5,91.1 260.9,91.3 263.3,92.1 265.6,92.8 268.0,93.1 270.4,93.8 272.8,94.3 275.1,94.6 277.5,95.6 279.9,95.8 282.2,95.3 284.5,95.3 286.8,95.9 289.0,96.8 291.3,97.4 293.5,97.6 295.8,97.8 297.9,98.0 299.9,98.2 302.0,99.3 304.0,100.6 306.1,101.3 308.1,102.8 310.1,104.8 312.3,107.0 314.4,108.3 316.5,109.4 318.7,111.4 320.9,115.1 323.2,118.4 325.5,121.8 327.7,125.6 330.0,129.1 332.3,132.8 334.5,137.0 336.8,141.7 339.0,146.0 341.3,150.6 343.4,155.4 345.6,159.7 347.7,164.1 349.8,168.5 352.0,171.1 354.2,174.1 356.4,177.1 358.6,180.4 360.9,182.1 363.2,183.6 365.5,185.0 367.9,186.3 370.2,187.3 372.4,187.3 374.6,187.0 376.8,186.6 379.1,186.6 381.3,184.2 383.5,182.0 385.8,180.8 388.0,178.6 390.3,173.8 392.5,169.7 394.8,166.8 397.0,164.1 399.4,162.5 401.7,160.9 404.1,159.6 406.4,157.9 408.8,155.2 411.2,153.1 413.5,152.0 415.6,151.1 417.6,149.4 419.7,147.9 421.7,146.2 424.0,144.9 426.3,144.5 428.6,143.9 430.9,142.7 433.2,142.0 435.4,142.6 437.7,143.7 439.9,143.4 442.1,142.3 444.3,141.9 446.5,141.6 448.7,141.0 450.9,140.6 453.1,140.4 455.3,140.8 457.5,140.8 459.6,140.6 461.8,140.9 463.9,140.8 466.0,139.7 468.2,139.1 470.3,140.3 472.4,141.3 474.6,140.4 476.6,139.6 478.7,139.6 480.8,139.3 482.8,139.3 484.9,140.2 487.0,141.2 489.1,141.3 491.2,141.2 493.3,141.1 495.4,140.9 497.3,141.8 499.2,143.3 501.1,143.6 503.2,143.8 505.3,144.1 507.5,144.7 509.5,145.0 511.7,145.1 513.8,146.1 515.9,147.2 518.0,148.2 520.1,148.9 522.3,148.8 524.4,148.7 526.6,149.6 528.7,150.6 530.9,151.2 533.1,151.6 535.3,152.1 537.5,151.7 539.7,150.9 541.9,151.0 544.1,152.5 546.3,154.0 548.5,154.6 550.7,155.4 552.9,156.6 555.1,157.3 557.3,157.6 559.5,158.8 561.7,160.3 563.8,160.8 566.0,159.8 568.2,159.3 570.3,160.1 572.5,160.7 574.6,161.5 576.8,162.7 578.9,163.7 581.0,164.5 583.2,165.3 585.3,166.0 587.4,166.7 589.5,168.0 591.6,169.0 593.7,169.4 595.8,169.9 597.9,170.1 600.1,170.3 602.2,171.3 604.3,172.2 606.4,172.0 608.5,172.4 610.6,173.6 612.7,173.9 614.8,173.6 616.9,174.1 619.0,175.1 621.2,175.9 623.3,177.0 625.4,178.0 627.5,178.6 629.6,179.0 631.7,179.9 633.8,180.6 635.9,180.7 638.0,181.6 640.2,183.1 642.3,183.6 644.4,184.1 645.5,185.6" stroke="#A2142F" stroke-width="1.0" fill="none" stroke-opacity="1.0" stroke-linejoin="round"/>
<polyline points="43.0,201.5 47.0,200.7 49.4,199.9 51.9,199.9 54.3,200.4 56.7,200.3 59.2,200.3 61.6,201.4 64.0,201.3 66.4,200.6 68.8,198.9 71.2,196.7 73.6,195.7 76.0,193.4 78.4,190.8 80.8,188.6 83.2,186.2 85.6,183.1 88.0,179.1 90.3,175.1 92.7,172.2 95.1,170.3 97.3,167.7 99.4,164.0 101.5,160.9 103.6,157.8 105.7,153.7 107.7,150.2 109.8,148.3 111.8,146.8 113.8,144.3 115.9,141.5 117.9,139.6 119.9,137.6 122.0,135.0 124.1,132.5 126.7,130.4 129.3,128.3 131.2,126.2 133.2,123.7 135.2,121.1 137.2,118.6 139.1,116.5 141.2,114.2 143.3,111.5 145.3,108.1 147.4,105.0 149.4,103.8 151.5,102.2 153.5,100.2 155.6,98.8 157.7,97.4 159.6,95.5 161.5,93.3 163.4,91.6 165.8,90.0 168.1,89.2 170.5,88.9 172.8,87.2 175.1,84.3 177.4,83.1 179.7,81.9 182.1,80.6 184.5,80.0 186.9,79.8 189.3,79.7 191.5,79.8 193.6,79.2 195.8,78.7 197.9,79.3 200.0,80.6 202.5,79.9 205.0,78.4 207.5,76.9 209.9,76.0 212.4,76.6 214.8,77.2 217.2,77.7 219.6,78.3 222.0,78.8 224.5,78.7 226.9,77.9 229.3,77.6 231.8,77.7 234.2,78.0 236.6,79.0 239.0,80.0 241.4,81.5 243.8,82.2 246.1,82.3 248.5,83.2 250.9,85.6 253.3,87.8 255.6,88.8 258.0,89.5 260.4,89.5 262.8,89.6 265.2,90.3 267.6,91.1 270.0,90.9 272.3,90.7 274.7,91.5 277.1,92.8 279.4,93.4 281.8,93.4 284.1,93.9 286.3,94.4 288.6,95.5 290.8,97.2 293.1,97.4 295.3,96.6 297.4,96.7 299.5,97.9 301.5,99.1 303.6,99.6 305.7,100.9 307.7,102.8 309.8,103.9 311.9,105.1 314.1,106.0 316.3,107.1 318.4,109.0 320.7,112.7 323.0,115.8 325.3,118.9 327.6,122.5 329.9,126.0 332.2,130.7 334.5,135.8 336.8,140.7 339.1,145.0 341.4,149.4 343.6,153.4 345.7,157.4 347.8,161.4 350.0,165.8 352.2,169.0 354.3,171.4 356.5,173.6 358.6,177.0 360.9,178.9 363.2,179.7 365.5,180.2 367.8,181.7 370.1,183.6 372.2,182.9 374.3,181.7 376.4,181.4 378.6,181.6 380.7,179.3 382.8,177.5 384.9,176.2 387.1,174.5 389.2,171.6 391.2,169.1 393.3,166.7 395.4,164.6 397.6,163.1 399.8,160.4 402.0,157.8 404.2,155.7 406.4,153.4 408.6,151.4 410.8,150.0 412.7,149.6 414.6,148.9 416.6,148.1 418.5,147.3 420.6,146.2 422.8,145.0 425.0,143.9 427.2,143.3 429.4,143.1 431.6,142.9 433.8,143.1 435.9,143.2 438.1,143.0 440.3,142.4 442.5,140.9 444.7,139.6 447.0,139.9 449.2,140.5 451.4,140.7 453.7,140.4 455.9,140.4 458.2,140.8 460.4,140.8 462.6,141.0 464.9,140.7 467.1,139.3 469.3,137.9 471.6,137.5 473.8,137.4 475.9,138.1 478.1,139.7 480.3,140.1 482.5,139.4 484.7,140.2 486.8,140.9 489.0,140.6 491.2,140.5 493.3,140.9 495.3,141.2 497.2,141.3 499.1,141.4 501.3,141.7 503.4,142.1 505.5,142.7 507.5,143.4 509.6,143.8 511.7,143.8 513.8,144.3 515.8,145.6 517.9,146.8 520.0,147.1 522.1,146.7 524.2,146.1 526.3,146.0 528.4,146.9 530.6,147.9 532.8,148.8 534.9,150.4 537.1,151.3 539.3,151.5 541.5,151.0 543.7,150.7 545.9,151.8 548.1,152.4 550.3,152.4 552.6,153.1 554.8,154.1 557.1,155.0 559.3,155.4 561.6,155.2 563.8,155.2 566.0,156.0 568.3,157.5 570.5,158.2 572.8,158.7 575.0,159.3 577.2,159.5 579.5,159.8 581.7,160.7 583.9,161.3 586.1,162.1 588.4,163.6 590.6,164.9 592.8,165.3 595.0,165.3 597.1,165.5 599.3,166.1 601.5,167.3 603.7,168.0 605.9,168.1 608.0,168.5 610.2,169.4 612.3,170.3 614.5,171.0 616.6,171.8 618.8,172.4 620.9,173.9 623.1,175.1 625.2,175.4 627.3,176.2 629.4,177.6 631.6,178.6 633.7,178.4 635.8,178.2 637.9,178.7 640.0,179.6 642.1,180.1 644.2,180.7 645.4,182.9" stroke="#0072BD" stroke-width="1.0" fill="none" stroke-opacity="1.0" stroke-linejoin="round"/>
<polyline points="43.0,186.6 45.6,186.6 48.1,187.4 50.5,189.1 53.0,190.3 55.4,189.2 57.8,188.0 60.3,187.7 62.7,188.5 65.1,187.1 67.4,184.6 69.8,182.9 72.2,182.2 74.5,181.3 76.9,178.4 79.3,175.4 81.6,173.0 84.0,171.4 86.4,169.9 88.7,165.8 91.1,161.8 93.5,158.4 95.9,154.2 98.2,150.1 100.5,145.6 102.9,140.3 105.1,136.5 107.2,133.6 109.4,130.8 111.6,127.7 114.1,122.6 116.6,117.4 119.0,113.2 121.3,110.2 123.5,107.4 125.7,105.1 127.9,102.3 130.2,99.3 132.5,97.0 134.8,94.8 137.1,92.2 139.4,89.5 141.7,88.0 143.9,86.8 146.2,85.3 148.4,82.8 150.7,79.7 152.9,77.5 155.2,76.2 157.4,74.7 159.7,73.5 162.0,72.0 164.3,69.8 166.7,67.2 169.0,65.1 171.4,64.0 173.9,62.8 176.5,61.5 179.0,60.0 181.5,59.3 184.0,58.3 186.5,56.9 189.0,56.1 191.4,57.6 193.8,58.8 196.2,59.4 198.6,59.7 201.0,61.0 203.5,62.7 205.9,64.1 208.3,65.5 210.7,67.7 213.1,69.6 215.5,69.9 217.9,70.1 220.3,71.4 222.7,73.3 225.1,74.6 227.6,75.0 230.0,75.3 232.4,76.1 234.9,77.4 237.3,78.7 239.7,79.8 242.2,81.1 244.6,81.8 247.0,82.8 249.2,83.7 251.3,84.9 253.4,85.9 255.6,86.7 257.7,88.4 259.9,90.1 262.0,90.9 264.3,92.0 266.5,93.3 268.8,94.2 271.0,94.9 273.3,95.5 275.5,96.1 277.8,96.9 280.0,98.2 282.2,100.8 284.4,102.6 286.6,104.1 288.9,106.4 291.0,108.3 293.2,110.0 295.4,111.6 297.6,113.2 299.6,116.1 301.7,119.1 303.7,121.7 305.7,124.0 307.8,127.1 309.8,129.8 311.8,132.0 314.0,136.4 316.3,141.3 318.5,146.3 320.8,151.2 323.0,156.3 325.1,161.4 327.3,166.1 329.4,170.2 331.5,174.2 333.6,176.6 335.7,179.3 337.9,181.2 340.0,182.7 342.3,182.2 344.6,181.8 346.9,182.2 349.2,182.8 351.5,183.1 353.9,182.0 356.3,181.1 358.8,180.1 361.2,178.3 363.6,176.2 365.9,174.0 368.3,171.8 370.7,169.3 373.0,166.9 375.4,163.9 377.8,160.6 380.1,158.9 382.5,157.7 384.8,156.0 387.2,154.2 389.5,151.9 391.9,149.3 394.1,148.0 396.2,147.5 398.4,147.4 400.6,146.3 402.7,144.2 404.9,142.2 407.1,140.0 409.2,138.9 411.4,138.9 413.5,139.5 415.7,139.6 417.9,139.7 420.1,139.9 422.2,139.2 424.4,138.0 426.6,137.0 428.8,136.8 430.9,137.1 433.1,137.1 435.3,136.7 437.5,135.8 439.7,135.4 441.9,135.6 444.1,135.6 446.3,135.2 448.5,135.6 450.7,136.6 452.9,137.3 455.0,137.5 457.1,137.8 459.2,139.3 461.3,140.9 463.4,141.1 465.5,140.7 467.6,141.3 469.9,143.1 472.2,143.9 474.4,144.5 476.7,146.6 479.0,149.3 481.3,150.8 483.5,151.6 485.8,153.4 488.0,155.8 490.2,157.5 492.4,158.3 494.5,159.0 496.8,160.7 499.0,162.3 501.2,163.8 503.4,165.0 505.5,165.9 507.7,166.6 509.8,167.7 512.0,169.5 514.1,170.9 516.2,173.0 518.4,175.2 520.5,177.3 522.7,179.6 524.8,182.0 526.9,184.0 529.1,184.8 531.2,185.7 533.3,186.2 534.3,184.9 536.6,203.5 644.4,203.5" stroke="#D95319" stroke-width="1.0" fill="none" stroke-opacity="1.0" stroke-linejoin="round"/>
<path d="M40.0 66.5H672.5" stroke="#c41e30" stroke-width="1" stroke-dasharray="1.1 2.35" fill="none"/>
<text transform="translate(51.80 75.50) scale(1.03 1)" class="mn" text-anchor="start">mean</text>
<text transform="translate(355.45 28.00) scale(1.05 1)" class="tt" text-anchor="middle">Pump 1</text>
<text transform="translate(356.05 237.70) scale(1.05 1)" class="lb" text-anchor="middle">Time (s)</text>
<text transform="translate(15.10 118.40) rotate(-90) scale(1.0 1)" class="yl" text-anchor="middle">Flow (L/s)</text>
<path d="M109.39 271.3V441.1M179.78 271.3V441.1M250.17 271.3V441.1M320.56 271.3V441.1M390.94 271.3V441.1M461.33 271.3V441.1M531.72 271.3V441.1M602.11 271.3V441.1M39.0 407.14H672.5M39.0 373.18H672.5M39.0 339.22H672.5M39.0 305.26H672.5" stroke="#d8d8d8" stroke-width="1" fill="none"/>
<path d="M39.00 441.1v-6.3M39.00 271.3v6.3M109.39 441.1v-6.3M109.39 271.3v6.3M179.78 441.1v-6.3M179.78 271.3v6.3M250.17 441.1v-6.3M250.17 271.3v6.3M320.56 441.1v-6.3M320.56 271.3v6.3M390.94 441.1v-6.3M390.94 271.3v6.3M461.33 441.1v-6.3M461.33 271.3v6.3M531.72 441.1v-6.3M531.72 271.3v6.3M602.11 441.1v-6.3M602.11 271.3v6.3M672.50 441.1v-6.3M672.50 271.3v6.3M39.0 441.10h6.3M672.5 441.10h-6.3M39.0 407.14h6.3M672.5 407.14h-6.3M39.0 373.18h6.3M672.5 373.18h-6.3M39.0 339.22h6.3M672.5 339.22h-6.3M39.0 305.26h6.3M672.5 305.26h-6.3M39.0 271.30h6.3M672.5 271.30h-6.3" stroke="#262626" stroke-width="1" fill="none"/>
<rect x="39.0" y="271.3" width="633.5" height="169.8" stroke="#262626" stroke-width="1.1" fill="none"/>
<text transform="translate(39.00 457.70) scale(1.03 1)" class="tk" text-anchor="middle">0</text>
<text transform="translate(109.39 457.70) scale(1.03 1)" class="tk" text-anchor="middle">20</text>
<text transform="translate(179.78 457.70) scale(1.03 1)" class="tk" text-anchor="middle">40</text>
<text transform="translate(250.17 457.70) scale(1.03 1)" class="tk" text-anchor="middle">60</text>
<text transform="translate(320.56 457.70) scale(1.03 1)" class="tk" text-anchor="middle">80</text>
<text transform="translate(390.94 457.70) scale(1.03 1)" class="tk" text-anchor="middle">100</text>
<text transform="translate(461.33 457.70) scale(1.03 1)" class="tk" text-anchor="middle">120</text>
<text transform="translate(531.72 457.70) scale(1.03 1)" class="tk" text-anchor="middle">140</text>
<text transform="translate(602.11 457.70) scale(1.03 1)" class="tk" text-anchor="middle">160</text>
<text transform="translate(672.50 457.70) scale(1.03 1)" class="tk" text-anchor="middle">180</text>
<text transform="translate(33.40 446.50) scale(1.03 1)" class="tk" text-anchor="end">0</text>
<text transform="translate(33.40 412.38) scale(1.03 1)" class="tk" text-anchor="end">10</text>
<text transform="translate(33.40 378.26) scale(1.03 1)" class="tk" text-anchor="end">20</text>
<text transform="translate(33.40 344.14) scale(1.03 1)" class="tk" text-anchor="end">30</text>
<text transform="translate(33.40 310.02) scale(1.03 1)" class="tk" text-anchor="end">40</text>
<text transform="translate(33.40 275.90) scale(1.03 1)" class="tk" text-anchor="end">50</text>
<polyline points="42.5,413.7 44.9,413.0 47.2,411.9 49.6,411.5 51.9,411.7 54.2,411.1 56.5,410.1 58.7,410.2 61.0,410.2 63.2,409.9 65.4,409.7 67.6,409.9 69.6,411.8 71.6,413.7 73.6,415.3 75.5,416.4 77.5,417.2 79.7,418.1 81.8,418.8 84.0,419.5 86.1,419.9 88.2,420.3 90.2,421.2 92.1,423.1 94.1,424.9 96.0,425.5 97.9,425.8 100.0,426.3 102.1,427.3 104.2,428.4 106.4,429.3 108.5,430.0 110.5,429.6 112.6,429.5 114.6,429.5 116.6,428.9 118.7,427.3 120.8,426.4 122.8,424.9 125.1,422.4 127.3,420.5 129.6,419.4 131.8,417.6 134.1,415.7 136.3,414.0 138.6,412.2 140.8,409.3 143.1,405.8 145.3,402.9 147.5,399.0 149.7,394.6 151.9,390.4 154.0,386.7 156.2,383.1 158.4,379.1 160.6,374.0 162.9,368.9 165.1,364.9 167.3,361.5 169.5,357.6 171.8,353.2 174.0,350.3 176.2,347.8 178.5,344.3 180.7,340.5 183.0,336.7 185.2,333.0 187.5,330.1 189.8,327.7 192.1,325.6 194.4,323.5 196.7,321.8 199.0,320.0 201.3,319.1 203.6,317.7 205.9,316.0 208.1,314.9 210.4,314.5 212.7,314.4 214.8,312.9 217.0,310.6 219.1,308.6 221.2,307.1 223.3,305.9 225.3,304.8 227.3,303.2 229.6,303.4 231.9,304.8 234.1,305.7 236.4,305.3 238.6,304.6 240.9,304.5 243.1,305.6 245.3,307.2 247.5,309.2 249.8,310.2 252.0,310.6 254.2,312.0 256.4,315.1 258.6,318.1 260.8,320.4 263.0,321.8 265.2,322.4 267.4,323.6 269.7,325.1 271.9,326.5 274.1,327.4 276.4,328.3 278.6,329.6 280.9,330.8 283.1,331.0 285.4,331.4 287.6,332.6 289.9,334.8 292.2,336.4 294.4,336.5 296.7,335.8 299.0,336.1 301.3,336.8 303.6,338.1 305.9,339.0 308.2,338.3 310.5,338.6 312.8,340.4 315.1,342.3 317.4,343.7 319.7,344.3 322.1,344.4 324.4,344.8 326.6,345.7 328.9,346.0 331.2,346.7 333.5,348.6 335.8,350.6 337.8,352.9 339.8,354.6 341.9,356.0 343.9,357.7 345.9,359.6 347.9,363.2 349.8,366.3 351.8,369.4 353.7,373.5 355.7,377.9 357.6,382.8 359.6,387.5 361.5,392.5 363.4,397.0 365.4,401.2 367.4,403.8 369.3,406.2 371.3,407.9 373.3,410.0 375.3,410.4 377.3,411.0 379.3,411.1 381.3,411.2 383.2,409.2 385.1,407.0 387.0,404.6 388.9,402.4 390.8,399.8 392.8,395.3 394.9,390.9 396.9,387.5 399.0,384.6 401.0,380.8 403.1,378.2 405.2,376.0 407.3,374.2 409.5,372.4 411.6,370.9 413.7,370.0 415.9,368.4 418.1,367.3 420.2,366.8 422.4,366.4 424.6,365.4 426.7,364.2 428.9,363.6 431.2,364.1 433.4,364.5 435.7,364.2 438.0,364.2 440.3,364.4 442.5,365.5 444.8,366.4 447.1,366.3 449.4,365.8 451.6,366.3 453.9,367.5 456.2,368.2 458.4,369.8 460.5,371.0 462.6,372.0 464.8,373.7 466.9,374.7 469.1,375.5 471.4,376.8 473.6,378.8 475.8,381.0 478.1,382.9 480.3,384.5 482.5,385.9 484.7,387.0 486.9,388.5 489.1,390.4 491.3,392.6 493.5,394.8 495.6,397.1 497.7,398.8 499.8,400.5 502.0,402.8 504.1,406.0 506.0,409.4 508.0,412.5 509.9,416.3 511.9,420.3 513.9,422.1 515.8,423.5 517.8,425.4 519.8,427.9 521.9,429.8 524.0,431.7 526.1,432.9 528.2,433.4 530.3,434.1 532.5,434.4 534.7,434.8 536.9,434.8 538.1,441.1 672.5,441.1" stroke="#0072BD" stroke-width="1.0" fill="none" stroke-opacity="1.0" stroke-linejoin="round"/>
<polyline points="42.5,436.2 45.6,435.2 47.8,434.9 49.9,435.0 52.0,434.3 54.1,433.8 56.2,434.3 58.3,433.0 60.4,431.3 62.5,430.3 64.6,429.9 66.7,429.4 68.8,428.0 70.9,426.0 73.0,424.5 75.1,423.5 77.2,423.3 79.3,422.8 81.4,422.1 83.6,421.1 85.7,420.3 87.8,418.7 90.0,416.9 92.1,415.9 94.3,415.4 96.4,414.5 98.6,413.6 100.7,413.5 102.9,413.6 105.1,413.6 107.3,413.3 109.4,413.3 111.9,413.6 114.3,413.0 116.7,412.0 119.2,411.4 121.6,411.5 123.9,410.5 126.2,409.6 128.5,408.1 130.8,406.7 133.1,406.0 135.4,405.2 137.4,403.6 139.4,401.7 141.4,399.2 143.4,396.5 145.4,394.8 147.4,392.9 149.4,390.9 151.4,387.6 153.4,383.9 155.4,380.4 157.8,374.9 160.3,369.4 162.7,364.1 165.2,358.7 167.1,353.9 169.1,350.5 171.0,348.2 172.9,345.0 174.9,340.8 176.8,338.2 178.7,336.1 180.6,333.2 182.5,329.8 184.4,327.4 186.3,325.5 188.2,322.6 190.1,320.0 192.0,318.6 193.8,317.4 196.2,315.4 198.6,312.9 200.8,312.0 202.9,311.2 205.4,311.9 207.8,312.4 210.2,315.4 212.6,319.1 215.2,322.9 217.9,326.1 220.0,327.2 222.1,328.2 224.1,329.3 226.2,330.7 228.1,330.4 230.1,330.5 232.0,331.6 233.9,332.5 235.9,332.5 238.0,330.7 240.2,329.6 242.4,329.2 244.6,328.4 246.8,327.0 249.0,326.5 251.1,327.2 253.1,326.6 255.2,325.5 257.2,325.9 259.3,326.6 261.3,325.9 263.4,324.9 265.5,325.5 267.5,326.7 269.6,327.1 271.7,327.3 273.8,327.5 275.8,328.1 277.9,328.4 280.0,328.6 282.1,328.5 284.3,326.8 286.5,325.7 288.7,326.2 290.9,326.4 293.1,325.6 295.3,324.4 297.6,322.6 299.8,320.8 302.0,318.8 304.3,317.3 306.6,316.4 308.8,315.5 311.1,316.1 313.4,316.4 315.6,316.1 317.9,316.0 320.2,316.2 322.4,316.1 324.7,315.0 327.0,314.5 329.3,314.5 331.6,314.1 333.8,313.8 336.1,313.3 338.2,313.2 340.2,313.4 342.3,313.0 344.3,312.5 346.4,312.5 348.4,314.1 350.4,315.8 352.4,318.3 354.4,320.8 356.5,322.7 358.5,325.3 360.5,327.8 362.6,331.5 364.6,336.6 366.6,341.8 368.6,347.2 370.6,352.3 372.7,356.8 374.7,361.0 376.7,366.2 379.2,373.6 381.7,379.5 384.2,384.0 386.6,389.1 388.6,394.2 390.6,399.6 392.6,403.6 394.7,406.9 396.6,411.4 398.7,413.5 400.8,415.3 402.9,417.0 405.0,418.6 407.1,420.5 409.3,421.9 411.5,423.1 413.7,424.0 415.9,424.8 418.1,426.2 420.3,427.7 422.4,428.4 424.6,428.8 426.8,427.7 429.0,427.0 431.1,426.9 433.3,427.2 435.5,427.1 437.6,426.6 439.8,425.5 442.0,424.0 444.1,423.0 446.3,422.4 448.5,421.6 450.6,420.8 452.8,420.5 455.0,421.0 457.1,421.6 459.3,420.9 461.5,419.9 463.6,418.9 465.8,418.0 468.0,417.7 470.2,417.4 472.4,416.9 474.6,417.6 476.8,418.0 478.9,417.6 481.1,417.5 483.3,418.0 485.5,419.1 487.7,420.6 489.9,421.3 492.2,420.7 494.4,420.3 496.6,420.6 498.8,420.3 501.0,420.1 503.3,420.8 505.5,421.5 507.7,422.1 509.9,422.9 512.1,422.9 514.3,422.3 516.5,422.5 518.7,423.0 520.9,423.3 523.1,423.6 525.3,423.9 527.4,423.7 529.6,424.2 531.8,425.1 534.0,425.5 536.2,425.9 538.3,426.0 540.5,424.8 542.7,423.4 544.9,423.5 547.1,424.9 549.2,426.1 551.4,426.9 553.6,428.0 555.8,428.8 558.0,428.5 560.2,427.8 562.4,427.7 564.6,428.7 566.9,429.9 569.1,430.3 571.3,429.5 573.6,428.9 575.8,429.0 578.1,430.5 580.4,432.1 582.6,432.5 584.9,431.7 587.1,431.2 589.4,431.2 591.7,431.2 594.0,431.9 596.3,432.8 598.6,431.9 600.8,431.2 603.1,431.0 605.4,430.7 607.7,431.6 610.0,433.0 612.4,434.6 614.4,441.1 672.5,441.1" stroke="#D95319" stroke-width="1.0" fill="none" stroke-opacity="1.0" stroke-linejoin="round"/>
<polyline points="42.5,433.4 45.8,432.7 47.8,431.8 49.8,432.0 51.7,432.6 53.7,432.9 55.8,432.6 57.8,431.1 59.7,430.6 61.7,430.6 63.8,429.8 65.8,428.7 67.8,428.3 69.8,427.5 71.9,426.1 73.9,424.3 76.0,422.5 78.1,422.3 80.1,421.9 82.2,420.5 84.3,418.9 86.4,417.3 88.6,416.4 90.7,415.5 92.8,414.5 95.0,413.6 97.2,413.0 99.3,413.9 101.5,415.3 103.7,415.4 105.9,414.7 108.1,414.2 110.6,413.2 113.0,411.9 115.5,411.7 118.0,412.1 120.5,412.4 122.9,411.3 125.2,409.8 127.6,408.8 129.9,408.3 132.3,407.3 134.7,406.0 136.8,404.0 138.8,402.2 140.9,400.0 143.0,397.7 145.1,395.7 147.1,392.2 149.2,388.7 151.3,385.6 153.3,382.5 155.4,379.3 157.9,374.2 160.4,368.9 162.9,363.7 165.4,358.6 167.4,354.1 169.4,349.4 171.4,345.5 173.4,342.5 175.4,338.9 177.3,335.7 179.3,332.7 181.2,330.0 183.2,327.6 185.1,325.3 187.0,322.7 189.0,319.5 190.9,316.7 192.9,315.0 194.8,313.8 197.3,311.7 199.7,308.9 202.0,307.7 204.2,307.1 206.7,308.1 209.2,308.6 211.7,311.3 214.2,313.6 216.9,316.1 219.7,318.8 221.8,320.5 224.0,322.3 226.2,323.2 228.3,324.1 230.3,325.2 232.3,326.7 234.3,327.6 236.4,327.9 238.4,328.2 240.6,326.6 242.9,324.8 245.1,323.7 247.4,323.4 249.6,322.4 251.9,321.2 254.0,321.2 256.1,321.8 258.2,322.0 260.3,321.5 262.4,321.2 264.5,321.4 266.6,321.4 268.7,321.1 270.8,320.9 273.0,320.9 275.1,321.0 277.2,321.4 279.3,322.1 281.4,322.6 283.4,322.8 285.5,322.1 287.7,321.0 289.9,320.7 292.1,319.9 294.3,319.0 296.4,318.9 298.6,318.0 300.8,316.5 303.0,315.2 305.1,314.3 307.3,313.3 309.4,311.8 311.6,311.1 313.7,312.1 315.9,312.9 318.0,313.0 320.2,312.9 322.3,312.7 324.4,312.6 326.6,312.0 328.7,310.9 330.8,309.7 333.0,309.9 335.1,311.1 337.3,311.7 339.2,311.3 341.1,310.6 343.0,310.1 344.9,310.2 346.9,310.5 348.8,312.8 350.7,315.5 352.6,318.3 354.5,320.9 356.5,322.4 358.4,325.5 360.3,329.3 362.3,333.7 364.2,338.2 366.2,342.0 368.1,346.0 370.1,350.3 372.1,354.7 374.0,359.0 376.0,363.9 378.4,370.0 380.9,375.4 383.4,381.8 385.8,388.5 387.8,393.4 389.8,398.4 391.8,402.8 393.8,406.1 395.8,409.5 397.9,411.1 400.0,413.4 402.1,415.5 404.3,416.7 406.4,417.6 408.6,418.2 410.9,419.4 413.1,420.1 415.3,420.6 417.6,422.2 419.8,423.9 422.1,424.8 424.3,425.6 426.5,425.1 428.8,424.8 431.0,424.3 433.2,423.8 435.4,422.5 437.7,420.9 439.9,420.6 442.1,420.9 444.3,420.7 446.5,419.8 448.7,419.2 450.9,419.0 453.1,418.1 455.3,416.3 457.4,415.9 459.6,416.3 461.8,415.7 464.0,415.1 466.1,415.7 468.3,415.5 470.5,414.3 472.6,413.5 474.8,413.7 477.0,414.3 479.1,414.7 481.3,414.6 483.5,414.5 485.7,414.4 487.8,414.7 490.0,416.0 492.2,417.1 494.5,417.4 496.7,417.7 498.9,417.9 501.1,417.6 503.4,417.9 505.6,419.0 507.9,420.2 510.1,420.4 512.4,419.8 514.7,419.8 516.9,420.8 519.2,422.1 521.5,422.3 523.8,421.7 526.1,421.1 528.3,421.8 530.6,423.0 532.9,423.5 535.2,423.9 537.5,424.7 539.7,425.2 542.0,425.5 544.2,425.7 546.5,426.4 548.7,427.4 551.0,427.6 553.2,427.0 555.4,426.1 557.6,425.7 559.8,426.6 562.0,427.6 564.2,427.8 566.4,428.5 568.6,429.9 570.7,430.3 572.9,430.0 575.0,429.8 577.2,429.8 579.3,430.1 581.5,430.6 583.6,431.1 585.8,430.9 587.9,430.7 590.0,431.3 592.2,431.9 594.3,432.1 596.5,432.2 598.6,431.6 600.8,431.2 602.9,431.3 605.1,430.8 607.3,431.4 609.5,432.4 611.7,434.0 613.7,441.1 672.5,441.1" stroke="#EDB120" stroke-width="1.0" fill="none" stroke-opacity="1.0" stroke-linejoin="round"/>
<polyline points="42.5,434.3 46.5,435.0 48.7,435.6 50.8,436.7 52.8,437.3 54.7,437.4 56.6,437.0 58.6,436.4 60.5,436.4 62.8,436.0 65.0,435.2 67.3,434.5 69.6,434.5 71.9,434.8 73.9,434.8 75.9,434.5 78.0,434.9 80.0,435.1 82.0,434.6 84.0,434.4 86.3,434.1 88.5,434.3 90.8,434.4 93.1,433.6 95.3,433.0 97.2,432.6 99.1,432.2 101.0,431.8 102.9,431.1 105.3,429.4 107.7,428.0 109.9,426.5 112.2,425.3 114.5,423.8 116.7,421.8 119.0,419.5 121.3,417.6 123.3,415.7 125.3,414.1 127.3,412.4 129.3,409.9 131.3,407.1 133.3,402.8 135.3,399.1 137.4,394.9 139.4,390.3 141.4,385.7 143.5,380.4 145.6,374.2 147.6,368.3 149.7,363.1 151.8,358.2 154.4,353.8 156.9,349.2 159.5,344.6 162.1,340.1 164.2,336.5 166.3,333.1 168.4,330.0 170.5,326.6 172.6,323.1 174.7,320.0 176.8,316.9 178.9,313.9 181.0,310.8 183.0,307.1 185.3,305.3 187.6,304.0 189.9,303.0 192.0,301.2 194.1,299.3 196.2,296.9 198.4,295.3 200.7,294.2 202.9,293.5 205.2,292.4 207.4,290.9 209.6,289.6 211.9,288.2 214.1,287.0 216.3,286.0 218.6,284.8 220.8,283.6 223.0,282.4 225.7,281.0 228.4,279.5 230.6,280.9 232.8,282.5 235.0,283.2 237.0,284.8 239.1,287.7 241.1,291.2 243.1,294.0 245.2,294.5 247.4,295.4 249.5,296.8 251.6,298.4 253.8,299.8 255.9,301.3 258.0,302.2 260.1,302.8 262.2,303.6 264.4,304.8 266.5,306.1 268.6,306.9 270.7,306.7 272.8,307.7 274.9,309.1 277.0,309.7 279.1,309.6 281.2,308.9 283.3,309.7 285.4,311.2 287.5,313.1 289.6,314.8 291.7,316.3 293.8,318.0 296.0,320.0 298.2,321.5 300.3,322.0 302.5,322.6 304.7,323.8 306.9,324.9 309.1,325.2 311.4,325.3 313.6,325.6 315.9,326.7 318.2,327.9 320.5,328.3 322.8,328.5 325.1,329.3 327.4,330.2 329.8,331.1 332.1,332.5 334.5,334.6 336.6,339.5 338.8,343.1 341.0,347.0 343.1,351.6 345.3,355.9 347.4,360.2 349.6,364.8 351.7,370.1 353.9,374.8 356.0,378.9 358.1,382.1 360.3,385.9 362.4,390.6 364.5,395.5 366.6,400.1 368.9,403.7 371.2,407.2 373.4,410.6 375.9,409.5 378.3,408.1 380.7,407.7 382.8,405.7 385.0,403.1 387.1,400.4 389.3,397.7 391.4,395.1 393.6,392.5 395.7,390.3 397.9,387.3 400.0,383.7 402.1,380.7 404.2,377.6 406.3,375.6 408.3,374.5 410.4,371.8 412.5,369.5 414.7,367.4 416.8,366.6 419.0,366.7 421.1,366.7 423.3,366.6 425.4,366.3 427.6,366.0 429.9,365.4 432.2,364.3 434.4,363.0 436.7,361.9 439.0,360.8 441.3,361.7 443.5,363.0 445.8,362.8 448.0,361.9 450.3,361.6 452.6,361.2 454.8,359.0 457.0,356.9 459.3,356.6 461.5,356.7 463.8,356.3 466.0,356.2 468.2,358.1 470.5,359.9 472.7,360.9 474.9,361.3 477.1,361.8 479.3,362.0 481.5,362.6 483.7,363.2 485.9,363.3 488.1,364.4 490.2,367.3 492.4,369.2 494.6,369.7 496.8,370.4 499.0,372.0 501.1,373.5 503.3,374.6 505.5,375.9 507.7,377.4 509.9,378.9 512.1,379.8 514.3,381.0 516.5,381.9 518.7,383.1 520.9,385.0 523.1,386.9 525.3,388.3 527.5,389.2 529.7,389.6 531.9,390.3 534.1,392.3 536.4,394.2 538.6,395.4 540.9,397.2 543.1,399.7 545.4,401.1 547.7,401.7 550.0,403.1 552.2,405.3 554.5,407.2 556.8,408.1 559.1,409.1 561.3,410.3 563.6,411.7 565.9,414.1 568.1,416.1 570.4,417.9 572.7,420.3 575.0,421.4 577.2,421.4 579.5,421.9 581.8,423.6 584.0,425.5 586.3,427.2 588.5,428.5 590.8,429.4 593.0,429.7 595.3,429.4 597.5,429.8 599.7,431.3 601.9,432.1 604.0,432.4 606.1,432.7 608.2,433.6 610.3,434.1 613.5,441.1 672.5,441.1" stroke="#7E2F8E" stroke-width="1.0" fill="none" stroke-opacity="1.0" stroke-linejoin="round"/>
<polyline points="42.5,433.8 46.7,433.4 48.9,432.8 51.0,432.9 53.1,433.4 55.2,433.9 57.3,432.5 59.3,431.0 61.4,429.9 63.5,428.6 65.5,427.5 67.5,426.7 69.6,425.5 71.6,424.2 73.6,422.9 75.6,422.3 77.6,421.4 79.6,419.6 81.6,418.4 83.6,417.8 85.6,416.8 87.6,416.0 89.6,415.5 91.6,414.9 93.6,413.7 95.6,412.5 97.6,413.1 99.6,413.7 101.6,413.7 103.7,413.4 105.7,412.6 108.0,412.1 110.3,411.5 112.6,411.3 115.0,411.7 117.3,412.1 119.6,411.0 121.8,409.3 124.1,407.6 126.3,406.8 128.6,406.7 130.9,406.1 133.0,403.4 135.1,400.7 137.2,398.6 139.3,396.6 141.4,395.0 143.5,392.8 145.7,389.9 147.8,386.6 150.0,382.6 152.2,378.5 154.8,373.3 157.5,368.6 160.1,364.3 162.8,360.1 164.9,356.0 167.1,351.8 169.3,348.5 171.4,345.0 173.6,340.3 175.7,336.9 177.8,334.1 179.9,331.4 181.9,328.8 184.0,326.2 186.0,324.6 188.1,323.3 190.1,322.2 192.0,319.9 194.0,317.0 196.5,315.0 198.9,313.7 201.1,312.9 203.3,311.3 205.7,311.7 208.1,313.0 210.5,316.9 212.9,320.2 215.5,323.5 218.1,327.0 220.1,328.1 222.1,329.2 224.2,330.7 226.2,331.5 228.0,331.3 229.9,331.9 231.8,332.4 233.6,332.1 235.5,331.7 237.6,330.5 239.8,330.0 241.9,329.2 244.1,328.4 246.3,327.9 248.4,326.7 250.5,326.1 252.6,325.4 254.6,325.0 256.7,324.6 258.8,324.5 260.9,324.8 263.0,325.6 265.2,326.6 267.3,326.5 269.4,326.1 271.6,326.7 273.7,327.5 275.8,327.4 278.0,326.7 280.1,326.0 282.2,325.7 284.5,324.9 286.7,324.8 288.9,324.8 291.1,323.4 293.3,322.1 295.6,321.7 297.8,320.5 300.0,318.9 302.2,317.8 304.4,317.3 306.6,316.7 308.8,315.5 310.9,314.9 313.1,314.5 315.2,314.6 317.4,314.6 319.6,314.5 321.7,314.6 323.8,314.9 326.0,315.4 328.1,315.3 330.3,315.0 332.4,315.0 334.5,315.0 336.4,314.5 338.4,313.7 340.3,313.3 342.2,313.7 344.2,314.6 346.1,317.8 348.0,319.4 349.9,320.1 351.8,321.9 353.8,324.2 355.8,328.5 357.7,332.9 359.7,336.5 361.7,340.3 363.7,344.7 365.7,349.8 367.7,354.5 369.7,358.8 371.7,363.2 373.8,367.7 376.3,373.0 378.8,378.4 381.4,384.5 383.9,390.2 386.0,394.3 388.0,398.3 390.1,402.6 392.2,407.0 394.3,411.6 396.5,413.5 398.7,415.0 400.9,416.1 403.1,417.6 405.3,419.9 407.6,421.3 409.9,422.0 412.3,422.5 414.6,423.1 416.9,424.1 419.2,425.7 421.5,427.4 423.8,429.0 426.1,428.5 428.4,427.7 430.7,426.9 432.9,426.0 435.2,424.9 437.4,424.6 439.7,424.7 441.9,424.3 444.1,423.7 446.3,423.1 448.5,422.1 450.7,421.3 452.9,420.8 455.1,419.7 457.3,418.8 459.4,418.7 461.6,418.3 463.7,418.0 465.9,417.8 468.0,417.4 470.1,417.5 472.3,417.2 474.4,417.4 476.6,417.6 478.7,417.4 480.8,417.4 483.0,417.8 485.1,418.4 487.3,418.6 489.5,419.2 491.6,420.2 493.8,420.8 496.0,420.6 498.3,420.3 500.5,420.8 502.7,421.5 505.0,422.0 507.3,422.6 509.5,422.5 511.8,422.2 514.1,422.7 516.4,423.5 518.7,424.2 521.0,425.0 523.3,425.7 525.6,425.7 527.9,426.1 530.3,427.4 532.6,427.7 535.0,426.7 537.3,425.5 539.6,425.3 541.9,426.2 544.3,427.6 546.6,428.1 548.9,427.1 551.2,425.3 553.5,425.1 555.8,426.7 558.0,428.3 560.3,428.7 562.5,429.4 564.8,430.5 567.0,431.3 569.2,431.7 571.4,431.5 573.6,431.1 575.8,430.9 578.0,431.0 580.1,431.8 582.3,432.5 584.4,432.3 586.5,432.0 588.7,432.5 590.8,433.1 592.9,432.9 595.0,432.2 597.0,431.8 599.1,431.7 601.2,431.4 603.2,431.0 605.3,430.6 607.4,431.9 609.5,433.3 611.6,434.3 613.4,441.1 672.5,441.1" stroke="#77AC30" stroke-width="1.0" fill="none" stroke-opacity="1.0" stroke-linejoin="round"/>
<polyline points="42.5,414.3 44.8,413.1 47.1,412.6 49.4,412.4 51.7,411.4 54.0,410.4 56.3,410.2 58.5,411.3 60.7,412.4 62.9,413.0 65.1,413.4 67.2,413.5 69.2,414.5 71.2,416.0 73.2,417.4 75.1,418.6 77.1,419.5 79.3,419.2 81.4,419.1 83.6,420.5 85.7,421.9 87.9,422.8 89.8,423.3 91.8,423.1 93.7,423.7 95.6,425.6 97.5,427.0 99.7,426.7 101.8,426.7 103.9,427.9 106.0,428.6 108.1,429.1 110.2,428.8 112.2,428.7 114.2,429.0 116.3,429.0 118.3,427.4 120.4,425.5 122.4,424.3 124.6,423.3 126.9,421.9 129.1,420.5 131.3,418.1 133.6,414.9 135.8,412.1 138.0,410.3 140.3,408.6 142.5,406.2 144.8,403.5 146.9,399.4 149.1,395.7 151.3,392.4 153.4,388.8 155.6,384.8 157.8,380.4 160.0,375.3 162.2,370.7 164.4,366.8 166.6,362.8 168.8,358.3 171.0,353.7 173.2,350.3 175.4,346.8 177.6,343.2 179.8,339.1 182.0,335.1 184.3,331.3 186.5,329.3 188.7,327.5 191.0,325.2 193.2,322.6 195.5,320.4 197.8,318.2 200.0,316.6 202.2,315.1 204.5,313.7 206.7,312.7 209.0,312.5 211.2,312.1 213.3,310.0 215.4,307.7 217.5,306.1 219.6,304.9 221.7,303.3 223.7,301.9 225.7,301.0 228.0,302.2 230.3,303.3 232.5,303.7 234.8,303.3 237.1,302.6 239.3,302.3 241.6,304.1 243.9,306.6 246.1,308.7 248.4,310.3 250.7,311.4 253.0,312.7 255.2,315.0 257.5,317.7 259.8,319.8 262.0,320.7 264.3,321.3 266.6,322.2 268.8,323.6 271.1,325.8 273.4,327.8 275.7,329.4 278.0,330.8 280.3,331.4 282.6,331.6 284.9,332.4 287.2,333.5 289.5,334.4 291.8,334.9 294.0,335.7 296.3,336.3 298.6,336.6 300.9,336.4 303.1,336.2 305.4,336.6 307.7,336.8 309.9,337.7 312.1,338.7 314.4,339.5 316.6,339.7 318.8,340.3 321.0,341.5 323.2,342.6 325.4,343.6 327.6,344.8 329.8,346.1 332.0,347.6 334.2,348.6 336.1,350.2 338.0,352.4 340.0,355.1 341.9,357.6 343.8,359.9 345.7,363.7 347.6,367.4 349.5,371.3 351.4,375.1 353.3,378.8 355.3,383.9 357.2,389.0 359.1,393.0 361.0,396.9 363.0,401.8 365.0,404.7 367.0,407.8 369.1,411.2 371.1,414.3 373.1,413.5 375.2,412.5 377.3,411.7 379.3,410.6 381.3,407.6 383.3,405.6 385.4,403.9 387.4,401.8 389.4,399.3 391.6,394.1 393.7,388.7 395.9,384.8 398.1,381.8 400.2,378.1 402.5,375.3 404.7,372.5 407.0,369.8 409.2,367.7 411.4,366.3 413.7,366.2 416.0,365.6 418.3,364.6 420.6,363.3 422.8,362.2 425.1,361.7 427.4,361.8 429.6,361.6 432.0,361.7 434.3,361.4 436.6,360.9 439.0,360.8 441.3,360.9 443.6,361.4 445.9,362.0 448.2,362.6 450.5,363.1 452.8,363.2 455.1,363.7 457.4,364.9 459.5,366.2 461.6,367.3 463.8,369.0 465.9,370.9 468.0,372.7 470.2,374.0 472.4,375.2 474.6,376.8 476.8,378.0 479.0,379.2 481.2,381.1 483.4,383.0 485.6,384.5 487.8,386.8 489.9,389.4 492.1,391.7 494.2,393.5 496.3,395.3 498.4,396.9 500.5,399.9 502.6,404.2 504.7,407.1 506.6,409.7 508.5,412.2 510.4,414.4 512.3,417.1 514.2,419.0 516.2,420.9 518.1,423.4 520.0,426.0 522.1,426.9 524.1,427.9 526.1,429.2 528.2,430.4 530.2,430.8 532.4,430.5 534.5,430.5 536.6,430.8 537.8,441.1 672.5,441.1" stroke="#4DBEEE" stroke-width="1.0" fill="none" stroke-opacity="1.0" stroke-linejoin="round"/>
<polyline points="42.5,432.2 45.8,431.2 47.8,430.4 49.9,430.3 51.9,430.2 54.0,430.3 56.1,430.6 58.2,430.2 60.4,429.5 62.6,429.5 64.8,429.1 67.0,428.7 69.3,429.0 71.5,429.2 73.7,428.5 76.0,428.0 78.2,427.5 80.3,426.7 82.5,426.0 84.6,425.7 86.8,425.6 88.9,425.0 91.1,424.5 93.3,424.9 95.4,425.1 97.6,424.5 99.8,423.1 102.0,421.3 104.2,420.2 106.4,419.4 108.6,418.5 110.8,419.1 113.0,419.9 115.3,420.7 117.5,420.4 119.7,419.7 122.0,419.9 124.4,421.4 126.9,423.2 129.4,424.6 131.9,425.0 134.0,425.2 136.1,426.5 138.2,427.8 140.2,428.1 142.3,427.7 144.4,427.8 146.5,428.6 148.6,429.7 150.8,429.7 153.0,428.7 155.3,427.9 157.5,427.5 159.7,426.8 161.9,426.6 164.0,426.5 166.1,425.8 168.2,423.9 170.3,422.5 172.4,421.2 174.6,418.7 176.9,416.3 179.1,413.6 181.4,411.3 183.6,409.4 185.9,406.8 188.1,403.2 190.4,399.7 192.6,396.5 194.9,392.9 197.2,388.7 199.4,385.2 201.7,381.8 203.9,377.6 206.2,372.9 208.4,368.6 210.7,365.3 213.0,362.5 215.3,358.3 217.7,354.0 220.0,349.9 222.4,345.4 224.7,341.1 227.0,336.5 229.2,334.0 231.3,331.9 233.4,330.4 235.6,329.1 237.7,328.1 239.8,327.9 242.0,326.9 244.0,324.8 246.1,322.9 248.1,321.2 250.2,319.1 252.3,317.9 254.4,317.2 256.5,316.0 258.6,314.0 260.7,312.2 262.8,311.8 264.9,312.0 267.0,311.9 269.0,311.0 271.0,309.0 273.0,307.1 275.1,306.2 277.1,305.2 279.1,306.5 281.1,307.4 283.1,308.1 285.1,308.8 287.1,309.1 289.1,310.0 291.1,311.9 293.1,314.0 295.1,316.1 297.1,317.7 299.3,317.9 301.5,318.1 303.7,319.0 305.9,320.4 308.2,321.3 310.4,322.1 312.5,322.5 314.6,322.7 316.7,323.5 318.8,324.4 321.0,324.8 323.1,325.6 325.2,327.0 327.3,327.5 329.4,327.4 331.5,327.7 333.6,328.7 335.7,330.1 337.8,331.5 339.9,332.1 342.0,332.2 344.1,333.0 346.3,334.9 348.5,337.1 350.7,339.3 352.9,341.0 355.0,342.1 357.2,342.2 359.4,341.3 361.7,342.0 363.9,344.5 366.1,346.6 368.3,347.5 370.6,348.0 372.8,348.7 375.0,349.3 377.3,349.4 379.3,350.1 381.4,351.7 383.4,353.5 385.5,354.7 387.6,355.9 389.7,356.3 391.8,356.5 394.0,360.2 396.2,364.5 398.4,368.5 400.7,372.4 403.1,379.0 405.5,385.6 408.0,391.9 410.4,398.3 413.0,401.7 415.5,405.1 418.1,408.9 420.4,408.4 422.6,407.2 424.9,406.0 427.2,405.2 429.5,404.5 431.8,403.7 434.1,402.8 436.3,400.0 438.6,397.5 440.9,395.7 443.2,394.1 445.4,392.8 447.7,390.5 449.9,385.9 452.2,382.2 454.4,379.1 456.7,375.8 458.9,372.3 461.1,368.7 463.4,366.9 465.6,365.1 467.8,363.2 470.0,361.4 472.2,361.6 474.4,362.5 476.6,364.6 478.8,366.2 481.0,366.2 483.2,365.9 485.4,367.9 487.6,370.8 489.8,373.1 492.0,374.8 494.2,376.3 496.4,378.1 498.6,380.4 500.8,382.7 502.9,384.2 505.1,385.4 507.3,387.2 509.5,388.7 511.7,389.8 513.8,391.3 516.0,392.6 518.2,393.5 520.3,394.1 522.5,395.2 524.7,397.4 526.8,398.9 529.0,399.7 531.1,401.1 533.3,403.2 535.5,405.2 537.6,406.7 539.8,407.9 542.0,409.4 544.1,410.5 546.3,412.4 548.5,414.5 550.6,414.8 552.8,414.7 555.0,416.6 557.1,418.7 559.3,420.4 561.5,422.3 563.6,424.0 565.8,425.0 568.0,426.4 570.2,428.2 572.3,431.1 574.5,434.1 576.7,437.7 578.9,441.1 672.5,441.1" stroke="#A2142F" stroke-width="1.0" fill="none" stroke-opacity="1.0" stroke-linejoin="round"/>
<polyline points="42.5,433.7 45.8,434.6 48.2,435.8 50.5,436.4 52.8,435.7 54.9,434.9 57.1,435.2 59.2,436.3 61.3,436.7 63.4,436.7 65.9,437.2 68.4,437.7 70.8,437.0 73.3,435.3 75.8,434.4 78.0,435.4 80.2,436.0 82.5,435.6 84.7,435.4 86.9,435.8 89.1,436.1 91.5,435.5 93.9,434.1 96.4,432.7 98.8,432.3 101.2,432.3 103.3,431.9 105.3,431.6 107.3,430.6 109.4,429.5 111.9,428.3 114.4,426.9 116.8,425.4 119.2,424.3 121.5,422.5 123.9,420.5 126.3,418.3 128.7,416.8 130.7,415.4 132.8,413.2 134.8,411.0 136.9,409.5 139.0,408.0 141.0,403.2 143.1,398.1 145.1,393.6 147.2,389.7 149.2,384.8 151.3,378.2 153.3,372.3 155.4,367.0 157.5,362.2 159.5,357.7 162.1,353.3 164.6,348.6 167.1,343.8 169.7,338.8 171.8,335.1 173.8,332.1 175.9,329.9 177.9,327.1 180.0,323.2 182.0,319.4 184.1,315.6 186.1,311.9 188.1,309.3 190.2,306.9 192.4,305.8 194.7,304.4 196.9,302.1 198.9,299.5 201.0,297.9 203.0,296.9 205.2,296.2 207.4,294.6 209.6,292.3 211.8,290.4 214.0,290.0 216.2,290.2 218.4,289.2 220.6,287.0 222.8,285.0 224.9,284.0 227.1,282.8 229.2,281.6 231.9,280.3 234.6,278.7 236.7,279.4 238.9,280.6 241.0,283.0 243.0,286.2 245.0,287.9 246.9,289.6 248.9,292.4 251.0,294.1 253.1,295.4 255.2,296.1 257.3,296.9 259.4,299.1 261.6,301.4 263.7,301.6 265.8,301.4 267.9,302.3 270.1,303.7 272.2,305.1 274.4,306.3 276.5,306.8 278.7,307.2 280.8,307.2 283.0,306.3 285.2,306.0 287.4,306.8 289.6,308.8 291.7,310.5 293.9,312.0 296.1,313.2 298.3,314.2 300.5,315.7 302.8,316.7 305.0,317.9 307.2,319.6 309.5,321.3 311.7,322.6 314.0,323.8 316.2,324.7 318.4,325.4 320.7,325.7 323.0,326.7 325.2,328.0 327.4,328.7 329.7,329.7 331.9,330.5 334.2,331.6 336.4,332.7 338.7,333.7 340.9,334.8 342.9,338.5 344.9,342.1 346.9,345.7 348.9,349.2 350.9,352.4 352.9,357.0 354.9,362.0 356.9,367.1 358.9,372.1 360.8,376.8 362.8,380.7 364.8,383.7 366.8,386.8 368.8,390.6 370.7,395.2 372.9,399.5 375.1,403.5 377.3,406.9 379.7,406.4 382.1,405.8 384.4,405.0 386.6,402.0 388.7,399.7 390.9,397.8 393.1,395.2 395.2,391.7 397.4,387.5 399.6,383.5 401.8,380.5 404.0,378.1 406.1,376.0 408.2,373.4 410.3,371.0 412.4,369.2 414.6,367.8 416.7,367.9 418.9,367.3 421.0,366.9 423.2,366.3 425.4,364.7 427.5,362.6 429.7,361.4 431.9,361.0 434.1,360.9 436.4,360.7 438.7,360.3 441.0,359.5 443.3,358.1 445.5,356.8 447.8,356.3 450.0,357.7 452.3,359.1 454.6,358.8 456.9,358.3 459.2,358.0 461.5,357.1 463.8,356.6 466.1,356.9 468.4,356.5 470.7,356.2 473.0,358.6 475.4,360.7 477.7,362.1 480.0,362.0 482.4,361.4 484.7,362.2 487.0,364.1 489.3,366.2 491.6,368.0 493.8,369.0 496.1,369.4 498.4,370.1 500.6,371.6 502.9,372.9 505.1,374.3 507.4,375.7 509.6,376.9 511.8,377.8 514.0,379.0 516.2,380.6 518.4,381.9 520.6,382.3 522.7,382.2 524.9,383.0 527.1,384.8 529.2,386.3 531.4,387.2 533.5,388.6 535.7,390.3 537.8,391.5 540.0,392.8 542.1,393.8 544.3,394.7 546.4,396.1 548.6,398.5 550.8,400.8 553.0,402.0 555.1,402.8 557.3,404.3 559.5,406.8 561.6,408.3 563.8,409.1 566.0,411.0 568.1,413.5 570.3,415.5 572.5,416.7 574.6,417.7 576.8,418.8 579.0,420.4 581.1,422.2 583.3,423.5 585.5,424.7 587.6,425.4 589.8,426.4 592.0,427.7 594.1,428.5 596.3,428.4 598.5,429.2 600.6,430.8 602.8,431.6 604.9,431.6 606.9,432.7 609.0,433.7 611.0,433.5 613.1,433.2 616.2,441.1 672.5,441.1" stroke="#0072BD" stroke-width="1.0" fill="none" stroke-opacity="1.0" stroke-linejoin="round"/>
<polyline points="42.5,438.3 45.4,438.0 47.4,437.5 49.5,436.6 51.5,435.7 53.5,436.0 55.6,436.1 57.6,434.3 59.6,432.9 61.7,431.3 63.7,429.4 65.8,427.6 67.8,426.4 69.9,425.7 71.9,425.0 74.0,424.5 76.1,424.2 78.2,422.8 80.3,420.7 82.4,419.2 84.5,417.9 86.6,416.7 88.7,416.5 90.9,416.6 93.0,416.1 95.2,415.6 97.3,415.3 99.5,415.3 101.7,414.9 103.8,414.3 106.0,413.8 108.2,413.6 110.6,413.9 113.1,414.0 115.5,413.6 117.9,413.8 120.4,414.5 122.7,414.4 125.0,413.6 127.3,412.4 129.6,411.1 131.8,409.9 134.1,408.9 136.1,407.6 138.1,406.6 140.1,405.2 142.1,404.0 144.1,402.7 146.1,398.9 148.0,395.2 150.0,392.3 152.0,389.7 153.9,386.7 156.3,381.6 158.8,375.9 161.2,370.1 163.6,365.3 165.5,362.6 167.4,359.3 169.3,354.6 171.2,349.7 173.1,345.1 175.0,342.1 176.9,339.8 178.8,337.3 180.7,334.1 182.5,330.4 184.4,328.1 186.3,326.3 188.2,323.5 190.1,321.2 192.0,319.4 194.4,317.2 196.9,315.0 199.1,313.8 201.3,312.6 203.7,313.5 206.2,314.3 208.7,316.5 211.2,319.2 213.9,322.6 216.7,325.9 218.8,327.6 221.0,329.5 223.2,330.6 225.3,331.0 227.4,330.7 229.4,331.6 231.4,333.1 233.4,333.8 235.4,333.6 237.7,331.7 239.9,329.7 242.2,327.9 244.4,326.4 246.7,325.5 248.9,325.3 251.0,325.7 253.1,325.7 255.2,325.8 257.3,325.4 259.4,325.0 261.4,325.3 263.5,325.5 265.6,325.2 267.7,324.9 269.8,324.4 271.9,324.4 273.9,324.5 276.0,324.3 278.1,324.6 280.2,324.8 282.3,324.9 284.5,324.5 286.7,324.4 288.9,324.0 291.1,323.2 293.3,322.2 295.5,321.4 297.7,320.4 299.9,319.7 302.1,319.0 304.3,318.3 306.6,317.8 308.8,316.9 311.0,317.0 313.2,316.7 315.5,316.2 317.7,316.6 319.9,317.4 322.2,317.2 324.4,316.3 326.6,315.3 328.9,314.6 331.1,314.4 333.4,313.8 335.6,313.1 337.7,312.4 339.7,311.4 341.8,311.4 343.8,311.8 345.9,311.3 348.0,313.1 350.0,315.2 352.1,316.9 354.1,318.4 356.2,320.6 358.3,325.1 360.4,329.3 362.5,333.4 364.6,337.2 366.7,341.0 368.8,345.7 370.9,350.2 373.0,354.5 375.1,358.6 377.2,362.6 379.8,368.3 382.3,374.7 384.9,381.1 387.5,386.8 389.6,392.0 391.6,397.7 393.7,402.7 395.8,406.9 397.9,410.8 400.0,412.0 402.2,413.7 404.3,416.1 406.5,418.5 408.6,420.1 410.9,420.7 413.1,422.0 415.3,423.7 417.6,424.7 419.8,425.7 422.0,426.8 424.2,427.5 426.4,428.7 428.5,428.7 430.7,428.3 432.9,427.6 435.0,427.1 437.1,426.6 439.3,425.9 441.4,425.9 443.5,426.0 445.6,425.6 447.7,424.3 449.8,423.1 451.8,422.5 453.9,421.6 456.0,420.7 458.1,419.8 460.1,419.2 462.2,419.7 464.3,420.0 466.3,419.4 468.4,418.7 470.5,417.7 472.5,416.8 474.6,417.8 476.7,418.5 478.8,418.7 480.9,418.9 483.0,419.5 485.1,420.1 487.3,420.0 489.4,420.4 491.5,422.1 493.7,423.4 495.9,423.3 498.1,422.8 500.3,422.6 502.5,423.1 504.7,424.5 506.9,425.6 509.2,425.8 511.4,426.0 513.6,425.8 515.9,425.9 518.1,426.8 520.4,427.3 522.7,427.8 524.9,428.6 527.2,429.2 529.5,429.5 531.7,429.6 534.0,429.5 536.3,429.5 538.6,429.4 540.8,429.1 543.1,429.2 545.3,429.6 547.6,430.2 549.8,431.3 552.1,432.1 554.3,431.5 556.6,430.7 558.8,431.4 561.0,432.9 563.2,433.7 565.4,433.7 567.6,433.5 569.8,433.5 572.0,433.5 574.2,434.1 576.4,435.0 578.6,434.6 580.8,434.2 582.9,435.1 585.1,435.8 587.3,435.8 589.5,435.1 591.6,434.2 593.8,433.4 596.0,432.9 598.2,433.5 600.3,434.6 602.5,434.1 604.7,433.0 606.9,434.3 609.1,435.9 611.4,437.1 613.4,441.1 672.5,441.1" stroke="#D95319" stroke-width="1.0" fill="none" stroke-opacity="1.0" stroke-linejoin="round"/>
<polyline points="42.5,429.3 46.7,430.2 48.8,431.2 51.0,431.7 53.1,431.4 55.2,430.8 57.4,428.7 59.5,427.3 61.6,426.7 63.7,425.7 65.8,424.6 68.0,424.4 70.1,423.3 72.2,421.7 74.4,420.9 76.5,420.0 78.6,418.3 80.8,416.4 82.9,415.3 85.0,414.6 87.2,413.9 89.3,413.3 91.5,412.3 93.6,411.8 95.8,411.6 97.9,410.9 100.0,410.6 102.2,410.8 104.3,410.7 106.5,410.3 108.6,410.4 111.0,410.1 113.4,409.0 115.7,408.5 118.1,408.4 120.5,408.1 122.7,407.4 125.0,406.6 127.2,405.7 129.4,405.5 131.7,405.0 133.9,403.9 135.8,402.1 137.8,400.7 139.7,399.0 141.6,397.6 143.6,395.9 145.5,392.6 147.5,389.5 149.4,386.4 151.3,382.3 153.3,378.1 155.7,372.7 158.1,368.4 160.5,363.3 162.9,357.6 164.9,353.6 166.8,350.1 168.8,346.5 170.7,343.0 172.7,338.9 174.6,335.6 176.6,332.7 178.5,330.0 180.4,327.5 182.4,325.3 184.4,323.6 186.3,321.8 188.3,319.6 190.2,316.5 192.2,313.8 194.7,312.0 197.2,310.9 199.4,311.0 201.7,309.5 204.2,309.5 206.7,310.4 209.2,313.5 211.7,316.0 214.4,318.9 217.2,321.8 219.3,322.2 221.5,323.7 223.6,326.4 225.8,328.3 227.7,328.4 229.7,327.8 231.7,327.8 233.6,329.6 235.6,330.6 237.8,329.1 240.0,327.6 242.2,326.5 244.4,325.9 246.6,324.5 248.8,322.4 250.9,322.0 253.0,321.8 255.0,321.1 257.1,320.7 259.2,321.3 261.3,322.3 263.4,322.3 265.5,321.5 267.7,321.2 269.8,321.7 271.9,322.2 274.1,322.4 276.2,323.1 278.4,323.3 280.5,323.1 282.7,323.4 284.9,322.7 287.2,321.6 289.5,321.0 291.7,321.1 294.0,320.8 296.3,319.8 298.5,318.6 300.8,317.6 303.1,315.7 305.4,313.5 307.6,312.3 309.9,311.4 312.1,312.0 314.4,312.5 316.6,312.0 318.9,311.4 321.1,311.8 323.3,313.0 325.6,313.0 327.8,311.4 330.0,310.0 332.3,309.6 334.5,309.9 336.7,310.7 338.7,310.4 340.8,309.4 342.8,308.7 344.8,308.2 346.8,308.2 348.8,310.6 350.8,312.5 352.8,313.7 354.8,315.0 356.8,316.8 358.8,320.6 360.8,325.3 362.8,330.5 364.8,334.9 366.8,338.7 368.9,342.9 370.9,347.5 372.9,352.6 374.9,358.0 376.9,362.4 379.3,367.6 381.8,373.5 384.2,380.0 386.7,387.1 388.6,392.4 390.6,396.7 392.5,401.1 394.5,405.3 396.4,409.7 398.5,411.9 400.5,412.7 402.5,413.1 404.5,414.7 406.5,417.2 408.6,418.6 410.7,420.3 412.9,422.3 415.0,423.6 417.1,424.3 419.2,424.7 421.3,425.1 423.4,426.0 425.5,425.7 427.6,425.3 429.7,424.1 431.8,422.5 433.9,422.2 436.0,422.2 438.1,421.5 440.2,420.6 442.3,419.6 444.4,418.9 446.6,418.6 448.7,418.0 450.8,417.7 453.0,417.8 455.1,417.1 457.3,416.4 459.4,416.5 461.6,416.9 463.7,416.2 465.9,415.0 468.1,414.7 470.3,414.5 472.5,415.0 474.7,415.5 476.9,416.5 479.1,417.5 481.3,418.0 483.5,417.5 485.7,416.4 488.0,415.6 490.2,415.4 492.5,416.1 494.7,416.7 497.0,417.3 499.3,417.9 501.5,418.0 503.8,418.4 506.1,419.3 508.4,419.7 510.6,419.4 512.9,419.2 515.2,419.0 517.5,419.1 519.7,420.3 522.0,421.0 524.3,420.8 526.5,420.7 528.8,420.7 531.1,420.2 533.3,420.1 535.6,420.9 537.8,421.9 540.1,422.2 542.3,422.3 544.5,423.3 546.8,423.7 549.0,423.7 551.2,423.9 553.5,424.4 555.7,424.8 557.9,424.4 560.1,424.0 562.4,424.2 564.6,424.9 566.8,425.1 569.1,425.5 571.3,425.6 573.6,425.5 575.8,426.1 578.0,427.0 580.3,427.2 582.5,426.9 584.8,426.6 587.0,426.3 589.3,425.8 591.5,425.7 593.8,426.9 596.0,428.2 598.3,428.3 600.5,427.3 602.8,426.0 605.1,425.9 607.4,427.2 609.7,427.5 612.0,428.8 614.0,441.1 672.5,441.1" stroke="#EDB120" stroke-width="1.0" fill="none" stroke-opacity="1.0" stroke-linejoin="round"/>
<polyline points="42.5,418.6 44.8,417.4 47.0,416.1 49.2,414.9 51.3,414.2 53.5,414.1 55.6,413.7 57.7,413.4 59.8,412.9 61.9,412.8 63.9,412.6 66.0,412.6 67.9,414.3 69.9,416.3 71.8,417.3 73.7,418.1 75.7,419.0 77.8,419.5 80.0,420.1 82.2,421.3 84.4,423.0 86.6,424.2 88.6,424.5 90.6,424.8 92.6,425.3 94.6,426.1 96.7,427.8 98.9,428.8 101.1,428.5 103.4,428.5 105.6,429.3 107.9,429.7 110.1,428.7 112.3,427.9 114.4,428.0 116.6,428.4 118.8,427.7 120.9,426.1 123.1,424.4 125.5,422.2 127.9,420.0 130.2,418.9 132.6,417.6 134.9,414.9 137.2,411.4 139.6,408.7 141.9,406.5 144.2,404.4 146.5,402.0 148.7,397.6 150.9,393.5 153.1,389.5 155.3,386.0 157.5,382.6 159.7,378.6 161.8,373.9 164.0,369.3 166.1,364.4 168.3,359.7 170.5,354.7 172.6,349.9 174.7,347.0 176.9,343.6 179.0,339.4 181.1,336.1 183.3,333.9 185.4,331.6 187.6,330.4 189.7,329.7 191.9,327.9 194.0,324.7 196.2,321.6 198.4,319.4 200.6,318.2 202.8,316.9 204.9,315.8 207.1,314.7 209.3,314.1 211.6,313.3 213.6,311.6 215.7,310.5 217.8,309.5 219.9,307.5 222.0,305.2 224.0,303.6 226.0,302.6 228.3,303.3 230.5,304.4 232.8,305.1 235.1,305.7 237.4,305.8 239.7,305.7 241.9,307.3 244.2,309.0 246.5,309.5 248.7,310.1 251.0,312.4 253.2,314.5 255.4,315.6 257.7,316.8 259.9,318.4 262.1,319.8 264.3,321.2 266.5,323.3 268.7,324.9 270.9,326.7 273.1,327.9 275.3,328.7 277.5,329.0 279.7,329.2 281.8,329.5 284.0,330.8 286.2,332.4 288.4,333.1 290.5,333.8 292.7,334.4 294.9,334.5 297.1,335.4 299.3,337.0 301.5,338.2 303.7,338.1 305.9,336.6 308.1,336.6 310.3,337.7 312.5,339.0 314.7,341.1 317.0,343.0 319.2,343.5 321.5,343.4 323.7,343.8 326.0,345.1 328.3,346.7 330.5,348.2 332.8,348.9 334.9,349.9 337.0,351.8 339.0,354.7 341.1,357.8 343.2,360.1 345.2,363.6 347.3,367.6 349.4,371.8 351.4,375.4 353.5,379.4 355.5,384.6 357.6,390.2 359.6,395.8 361.7,400.3 363.7,404.8 365.8,407.9 367.9,410.7 369.9,413.4 372.0,416.4 374.0,415.5 376.0,414.3 378.0,413.8 380.1,414.1 382.0,412.5 383.8,410.1 385.7,406.9 387.6,404.2 389.5,401.8 391.5,397.6 393.4,393.8 395.4,390.1 397.4,385.7 399.3,381.4 401.4,378.8 403.4,376.5 405.4,374.7 407.5,372.6 409.5,370.1 411.6,369.5 413.7,369.7 415.8,369.2 417.9,367.8 420.0,366.1 422.1,364.8 424.2,363.9 426.4,363.1 428.6,363.4 430.8,364.2 433.0,364.6 435.3,363.8 437.6,363.1 439.8,363.4 442.1,363.6 444.4,363.9 446.6,364.6 448.9,365.6 451.2,366.6 453.5,367.0 455.6,368.0 457.8,369.4 459.9,371.4 462.1,373.1 464.2,373.9 466.4,374.7 468.7,375.4 470.9,376.6 473.2,379.1 475.4,381.3 477.6,382.5 479.8,384.2 482.1,385.9 484.3,387.9 486.5,390.5 488.7,393.3 490.9,395.1 493.1,397.5 495.2,400.7 497.4,404.0 499.6,406.0 501.7,407.4 503.7,410.2 505.7,414.3 507.7,417.9 509.7,420.8 511.7,422.8 513.8,425.1 515.8,426.9 517.8,428.4 520.0,429.2 522.1,430.1 524.3,431.3 526.5,432.7 528.6,432.8 530.9,432.2 533.1,432.6 535.4,433.4 536.6,441.1 672.5,441.1" stroke="#7E2F8E" stroke-width="1.0" fill="none" stroke-opacity="1.0" stroke-linejoin="round"/>
<polyline points="42.5,433.8 44.6,434.2 46.6,434.3 48.7,433.7 50.7,433.5 52.7,433.9 54.7,434.1 56.8,432.9 58.8,431.6 60.8,430.0 62.9,428.2 64.9,426.7 67.0,425.5 69.1,424.0 71.1,423.2 73.2,422.8 75.3,421.9 77.4,420.5 79.5,419.7 81.6,418.4 83.7,416.2 85.8,414.8 87.9,415.1 90.0,415.5 92.1,415.0 94.3,413.8 96.4,412.2 98.5,411.8 100.7,412.2 102.8,412.3 104.9,412.1 107.1,411.7 109.5,411.6 111.9,411.7 114.3,411.6 116.7,410.9 119.2,409.5 121.5,408.3 123.8,408.3 126.2,407.5 128.5,405.2 130.8,403.6 133.2,403.4 135.2,402.4 137.3,400.7 139.4,398.0 141.5,394.9 143.6,392.4 145.7,389.1 147.8,385.7 150.0,382.8 152.1,380.7 154.2,377.7 156.8,371.9 159.4,366.1 162.0,361.2 164.5,356.4 166.6,352.5 168.7,348.7 170.8,344.7 172.9,340.6 175.0,336.3 177.1,332.9 179.1,329.6 181.1,327.0 183.2,324.5 185.2,322.4 187.2,321.8 189.2,320.5 191.2,318.3 193.2,315.9 195.2,313.8 197.7,311.2 200.2,308.5 202.5,307.4 204.7,306.8 207.2,307.8 209.7,308.6 212.2,311.8 214.7,315.6 217.5,319.7 220.2,322.9 222.4,323.6 224.5,324.6 226.7,325.6 228.8,326.4 230.8,326.5 232.7,326.9 234.7,327.1 236.7,327.7 238.6,328.6 240.8,327.5 243.0,325.9 245.2,325.5 247.3,325.4 249.5,324.8 251.6,323.4 253.6,322.5 255.6,321.6 257.6,321.5 259.6,322.1 261.6,322.7 263.5,323.0 265.5,322.6 267.5,321.6 269.5,321.1 271.5,321.5 273.4,322.1 275.4,322.3 277.4,322.4 279.5,322.7 281.5,322.8 283.5,323.0 285.7,322.4 287.8,321.7 290.0,321.0 292.2,320.0 294.4,318.8 296.7,318.3 298.9,317.5 301.2,315.4 303.4,313.3 305.7,312.5 308.0,312.5 310.3,312.1 312.5,312.4 314.8,312.2 317.1,311.7 319.4,312.5 321.6,313.2 323.9,312.7 326.2,312.0 328.4,311.7 330.7,311.7 332.9,312.4 335.1,313.4 337.3,313.5 339.3,313.0 341.3,312.9 343.2,312.6 345.2,312.3 347.2,311.6 349.1,313.6 351.0,316.5 352.9,319.3 354.8,320.6 356.7,321.6 358.6,325.4 360.6,329.2 362.5,333.1 364.4,337.4 366.3,341.4 368.2,345.8 370.2,350.3 372.1,354.8 374.0,358.9 376.0,362.9 378.4,368.6 380.9,374.0 383.3,379.5 385.8,385.7 387.7,390.5 389.7,395.0 391.7,399.4 393.7,403.5 395.7,407.9 397.7,409.7 399.8,411.6 401.9,413.2 404.0,414.8 406.1,416.6 408.3,417.1 410.5,417.2 412.7,418.2 414.9,420.1 417.1,421.8 419.3,423.1 421.5,424.4 423.7,425.7 425.9,425.0 428.1,423.6 430.3,422.5 432.5,422.3 434.6,422.7 436.8,422.4 439.0,420.7 441.2,418.8 443.4,418.1 445.6,418.2 447.8,418.1 450.0,417.8 452.2,417.4 454.4,417.0 456.6,416.4 458.8,415.3 461.0,414.6 463.2,414.1 465.4,413.6 467.6,413.5 469.9,413.5 472.1,413.4 474.3,414.2 476.5,414.7 478.7,415.2 480.9,415.0 483.1,414.8 485.3,415.2 487.6,415.7 489.8,416.6 492.0,417.8 494.2,418.5 496.5,419.1 498.7,420.2 500.9,421.4 503.1,422.0 505.4,422.2 507.6,422.0 509.8,421.4 512.1,421.6 514.3,422.2 516.5,422.9 518.8,423.5 521.0,424.5 523.2,425.5 525.5,425.6 527.7,425.6 530.0,425.7 532.2,426.1 534.5,426.6 536.7,427.4 539.0,428.4 541.2,428.8 543.5,428.5 545.7,428.0 548.0,427.8 550.3,428.3 552.5,429.3 554.8,429.7 557.0,429.8 559.3,430.1 561.6,430.4 563.8,430.5 566.1,430.2 568.4,429.8 570.7,429.2 572.9,428.6 575.2,428.4 577.5,428.1 579.7,428.9 582.0,430.2 584.2,430.5 586.4,430.1 588.7,430.4 590.9,431.1 593.1,431.6 595.3,431.9 597.5,431.8 599.7,431.5 601.9,431.3 604.1,430.5 606.2,429.5 608.4,430.9 610.6,432.1 612.8,433.3 614.8,441.1 672.5,441.1" stroke="#77AC30" stroke-width="1.0" fill="none" stroke-opacity="1.0" stroke-linejoin="round"/>
<polyline points="42.5,429.2 45.1,429.6 47.3,430.3 49.4,429.7 51.5,429.7 53.7,430.5 55.8,431.4 57.9,430.3 60.1,428.5 62.2,427.3 64.4,426.3 66.5,424.6 68.6,423.2 70.8,422.2 72.9,421.6 75.0,421.7 77.1,421.5 79.3,420.3 81.4,418.6 83.5,416.5 85.6,415.8 87.7,416.1 89.8,416.0 91.9,414.8 94.0,413.5 96.1,413.3 98.2,413.8 100.3,413.9 102.4,413.7 104.5,413.6 106.5,413.1 108.6,411.6 111.0,410.5 113.3,411.0 115.7,412.0 118.0,412.3 120.4,412.2 122.6,411.0 124.8,409.1 127.0,407.6 129.3,406.8 131.5,405.5 133.7,403.8 135.7,400.9 137.7,398.7 139.7,397.9 141.7,397.2 143.7,394.8 145.7,390.5 147.7,386.8 149.8,383.6 151.8,380.7 153.9,378.0 156.4,373.4 158.9,368.1 161.5,362.6 164.0,356.3 166.1,351.9 168.2,348.0 170.3,344.0 172.4,339.4 174.4,335.4 176.5,333.2 178.6,331.5 180.7,330.5 182.7,328.0 184.8,324.6 186.9,321.9 188.9,319.4 191.0,316.9 193.1,314.6 195.1,312.0 197.7,309.5 200.3,308.0 202.6,307.9 204.9,307.3 207.5,308.7 210.0,310.0 212.6,312.6 215.1,314.3 217.9,316.7 220.7,319.9 222.8,321.3 225.0,322.3 227.2,322.8 229.3,323.4 231.3,324.5 233.3,326.1 235.2,327.0 237.2,327.1 239.2,326.6 241.4,324.7 243.6,323.5 245.8,323.4 247.9,323.2 250.1,322.0 252.3,320.6 254.3,320.1 256.4,320.3 258.4,321.0 260.5,321.6 262.5,321.7 264.5,322.1 266.5,322.1 268.6,320.9 270.6,320.0 272.6,320.1 274.7,321.2 276.7,322.1 278.8,322.5 280.8,322.8 282.8,323.3 284.9,324.0 287.0,323.4 289.2,322.5 291.3,321.1 293.5,320.0 295.6,319.5 297.8,318.9 300.0,317.8 302.1,316.6 304.3,315.0 306.5,314.0 308.7,313.1 310.9,311.9 313.1,312.5 315.3,313.2 317.5,313.0 319.7,312.7 321.9,312.6 324.1,312.9 326.3,312.8 328.5,312.2 330.7,311.9 332.9,312.3 335.2,312.4 337.4,311.8 339.4,311.0 341.4,310.9 343.4,310.3 345.4,309.9 347.4,310.0 349.4,311.9 351.3,313.3 353.3,315.5 355.3,317.5 357.2,319.2 359.2,323.6 361.2,327.9 363.1,331.5 365.1,335.3 367.1,339.9 369.0,344.3 370.9,348.6 372.9,353.5 374.8,358.6 376.7,363.6 379.1,369.7 381.5,375.5 383.9,381.2 386.3,386.3 388.2,389.9 390.1,393.8 392.0,398.6 393.9,403.7 395.8,408.7 397.8,411.2 399.8,412.8 401.9,414.1 403.9,416.2 405.9,418.5 408.0,418.9 410.1,418.8 412.3,420.1 414.4,421.9 416.6,422.8 418.7,423.3 420.9,423.9 423.1,425.5 425.3,426.1 427.5,426.1 429.7,425.5 431.9,424.7 434.1,423.7 436.4,423.2 438.6,422.8 440.9,422.5 443.1,422.7 445.4,422.1 447.7,421.1 450.0,420.5 452.2,419.6 454.5,418.6 456.8,417.8 459.1,417.2 461.5,417.0 463.8,418.0 466.1,418.4 468.4,416.8 470.7,415.2 473.0,415.2 475.3,416.6 477.6,417.5 479.9,418.4 482.2,419.1 484.5,419.0 486.7,419.1 489.0,419.8 491.2,420.3 493.5,420.3 495.7,420.4 498.0,420.8 500.2,421.2 502.4,421.3 504.7,422.2 506.9,423.0 509.1,422.7 511.3,422.2 513.5,423.0 515.6,424.0 517.8,424.1 520.0,424.6 522.2,425.8 524.3,426.3 526.5,426.5 528.7,426.7 530.9,425.4 533.1,424.4 535.3,424.7 537.5,425.0 539.7,425.3 541.9,426.3 544.1,426.6 546.4,425.8 548.6,425.4 550.8,425.5 553.1,426.2 555.4,427.4 557.6,428.1 559.9,428.3 562.2,428.6 564.5,428.6 566.8,428.6 569.1,429.1 571.4,429.7 573.8,430.4 576.1,430.8 578.4,430.7 580.8,430.7 583.1,430.8 585.4,431.1 587.8,431.5 590.1,431.2 592.4,431.0 594.7,431.2 597.1,432.1 599.4,432.7 601.7,432.4 604.0,431.4 606.3,429.7 608.6,429.1 611.0,430.6 613.3,431.5 615.6,432.9 617.7,441.1 672.5,441.1" stroke="#4DBEEE" stroke-width="1.0" fill="none" stroke-opacity="1.0" stroke-linejoin="round"/>
<polyline points="42.5,435.9 45.5,436.4 47.8,437.4 50.1,438.0 52.2,438.8 54.2,440.2 56.3,440.6 58.4,439.6 60.4,438.7 62.9,438.3 65.4,438.2 67.8,438.1 70.3,438.2 72.7,437.7 75.0,437.3 77.2,436.7 79.4,436.0 81.6,436.0 83.8,436.9 86.0,438.0 88.5,437.8 90.9,437.3 93.3,437.1 95.8,437.1 98.2,437.1 100.2,436.1 102.2,434.8 104.3,434.0 106.3,433.0 108.8,431.6 111.3,430.9 113.7,429.3 116.0,427.6 118.3,425.7 120.7,423.7 123.0,420.8 125.3,417.9 127.3,416.3 129.4,414.9 131.4,412.9 133.4,411.2 135.4,410.0 137.4,405.7 139.4,401.6 141.4,397.2 143.3,392.0 145.3,387.6 147.3,382.6 149.3,376.8 151.3,370.6 153.3,365.1 155.2,360.6 157.7,355.5 160.1,350.2 162.5,345.5 164.9,340.5 166.9,336.9 168.8,333.7 170.7,330.8 172.6,327.5 174.5,323.8 176.4,321.0 178.3,318.4 180.2,315.0 182.0,311.7 183.9,308.8 186.0,306.6 188.0,304.3 190.1,302.1 192.0,300.0 193.8,298.5 195.7,297.2 197.8,296.5 199.9,295.2 201.9,294.2 204.0,293.2 206.1,292.0 208.2,290.8 210.3,289.6 212.4,288.8 214.6,288.4 216.7,288.1 218.8,286.9 221.0,285.5 223.7,283.3 226.4,280.9 228.5,282.4 230.7,283.8 232.9,284.4 235.0,288.0 237.0,292.1 239.1,294.3 241.1,295.8 243.3,296.9 245.6,298.3 247.8,300.1 250.0,301.9 252.2,303.8 254.5,306.1 256.7,307.3 259.0,307.3 261.2,306.7 263.4,306.7 265.7,307.4 268.0,308.6 270.2,309.0 272.5,309.1 274.7,309.7 277.0,310.4 279.3,310.8 281.5,311.2 283.8,313.0 286.0,313.8 288.2,314.5 290.5,316.0 292.7,317.8 295.0,320.0 297.2,321.7 299.5,323.0 301.7,324.0 304.0,324.3 306.2,325.1 308.5,326.0 310.7,326.4 312.9,327.5 315.2,329.1 317.4,329.8 319.7,330.4 321.9,332.3 324.2,334.7 326.4,335.1 328.7,335.2 331.0,336.6 333.2,338.2 335.5,339.1 337.5,342.7 339.6,346.5 341.6,350.5 343.7,354.9 345.7,359.3 347.8,363.4 349.8,366.8 351.9,370.8 353.9,376.6 356.0,381.9 358.0,385.3 360.1,388.8 362.2,392.4 364.3,396.4 366.3,400.0 368.6,402.9 371.0,407.1 373.3,410.8 375.7,409.3 378.2,408.0 380.6,407.7 382.9,405.4 385.1,402.9 387.4,399.9 389.6,397.2 391.9,394.9 394.2,391.6 396.4,387.8 398.7,383.9 401.0,380.4 403.2,378.1 405.3,376.1 407.5,374.6 409.7,372.9 411.9,370.3 414.1,369.1 416.3,368.6 418.4,369.0 420.6,369.1 422.8,368.9 425.0,368.3 427.2,367.4 429.4,366.6 431.6,365.5 433.9,365.3 436.1,365.4 438.4,364.5 440.6,363.7 442.8,363.4 445.0,363.4 447.2,363.7 449.4,363.6 451.6,363.6 453.8,363.1 456.0,361.5 458.1,360.9 460.3,361.0 462.5,360.7 464.7,360.4 466.9,359.8 469.1,360.4 471.3,360.9 473.4,360.8 475.6,361.0 477.8,362.2 480.0,364.0 482.2,365.7 484.4,366.9 486.5,366.9 488.7,367.0 490.9,368.7 493.0,371.3 495.2,372.8 497.4,373.5 499.6,374.4 501.8,375.5 504.0,376.1 506.1,377.1 508.3,378.7 510.5,379.9 512.7,380.4 514.9,381.3 517.1,382.7 519.3,384.2 521.5,385.9 523.7,387.7 526.0,389.0 528.2,389.8 530.4,390.9 532.6,392.4 534.8,394.1 537.1,395.7 539.3,397.4 541.5,399.1 543.8,400.5 546.0,401.6 548.3,402.8 550.5,403.7 552.8,404.7 555.0,406.7 557.2,408.8 559.5,410.3 561.7,412.1 563.9,414.6 566.1,416.9 568.4,418.3 570.6,419.1 572.8,420.1 575.0,422.2 577.2,424.6 579.5,425.8 581.7,426.7 583.9,427.7 586.2,428.4 588.4,428.9 590.6,429.8 592.9,430.4 595.1,430.8 597.3,431.7 599.6,432.7 601.7,432.7 603.9,433.0 606.1,433.7 608.2,434.1 610.4,434.2 613.7,441.1 672.5,441.1" stroke="#A2142F" stroke-width="1.0" fill="none" stroke-opacity="1.0" stroke-linejoin="round"/>
<polyline points="42.5,431.5 45.5,432.1 47.7,432.2 49.9,432.8 52.1,433.6 54.3,434.6 56.3,435.2 58.3,435.5 60.3,436.1 62.3,436.5 64.3,436.8 66.7,436.9 69.1,436.7 71.5,435.7 74.0,434.8 76.4,434.3 78.6,434.1 80.8,433.8 83.0,434.2 85.2,434.4 87.4,434.2 89.6,433.9 92.0,433.3 94.4,433.1 96.9,432.6 99.3,432.3 101.7,432.3 103.8,431.1 105.8,429.8 107.8,428.9 109.8,427.7 112.4,426.8 114.9,426.7 117.2,425.4 119.6,423.9 121.9,422.2 124.2,420.5 126.5,418.8 128.8,416.6 130.8,414.4 132.8,412.8 134.8,411.6 136.8,409.7 138.8,406.9 140.7,401.9 142.7,398.2 144.6,394.5 146.6,390.2 148.5,385.4 150.4,379.9 152.4,374.7 154.3,369.5 156.3,364.1 158.2,358.5 160.6,353.2 163.0,347.9 165.4,342.3 167.8,337.2 169.7,334.5 171.7,331.9 173.6,328.9 175.5,325.5 177.4,321.8 179.3,318.8 181.2,315.9 183.1,313.2 185.1,310.9 187.0,307.8 189.1,305.7 191.2,303.7 193.4,302.0 195.3,300.0 197.3,298.0 199.2,295.2 201.4,293.2 203.5,292.6 205.7,292.6 207.8,291.8 210.0,290.2 212.1,288.8 214.3,287.5 216.5,285.8 218.7,284.0 220.8,282.4 223.0,280.7 225.2,279.3 227.9,277.7 230.6,276.5 232.8,277.9 234.9,279.4 237.1,280.6 239.1,282.6 241.2,284.8 243.2,287.6 245.2,290.7 247.4,292.3 249.6,293.9 251.7,295.9 253.9,297.6 256.1,298.9 258.3,300.3 260.5,301.4 262.7,302.5 264.9,303.1 267.1,303.8 269.3,305.0 271.5,306.1 273.8,306.5 276.0,306.8 278.2,307.5 280.5,308.9 282.7,309.8 285.0,310.4 287.3,312.2 289.5,313.5 291.8,313.9 294.0,314.9 296.3,316.3 298.6,317.2 300.9,318.4 303.2,320.2 305.5,321.5 307.8,322.8 310.1,324.8 312.4,326.7 314.7,327.4 317.0,327.8 319.3,328.2 321.6,328.8 323.9,329.3 326.2,330.1 328.5,331.9 330.8,333.8 333.1,335.2 335.3,335.6 337.6,335.8 339.9,337.1 341.9,341.7 344.0,345.5 346.0,349.3 348.0,353.2 350.1,356.5 352.1,360.4 354.1,364.9 356.1,370.5 358.1,375.9 360.0,380.2 362.0,383.7 364.0,387.4 366.0,391.5 368.0,395.7 370.0,400.1 372.2,403.2 374.5,406.4 376.7,409.5 379.1,407.6 381.4,406.0 383.8,405.5 386.0,402.9 388.2,400.3 390.4,397.4 392.5,394.6 394.7,391.8 397.0,388.3 399.2,385.0 401.4,382.0 403.7,378.9 405.9,376.2 408.0,373.7 410.2,371.2 412.4,368.5 414.6,366.4 416.8,366.5 419.0,366.2 421.2,366.2 423.5,366.4 425.7,365.3 427.9,363.9 430.2,362.9 432.4,361.7 434.7,360.2 437.0,360.1 439.3,361.0 441.6,361.2 443.9,360.7 446.2,360.5 448.4,360.6 450.7,360.8 452.9,360.5 455.2,359.4 457.4,359.2 459.7,358.8 461.9,358.3 464.1,358.5 466.4,358.7 468.6,358.2 470.8,357.5 473.1,358.4 475.4,359.4 477.6,359.9 479.9,360.5 482.1,361.3 484.4,362.2 486.6,363.2 488.9,364.1 491.1,365.4 493.4,366.7 495.6,367.9 497.9,368.9 500.1,369.5 502.4,370.4 504.7,371.8 506.9,372.6 509.2,372.9 511.4,373.9 513.7,375.4 516.0,376.1 518.2,376.7 520.5,377.9 522.7,379.5 525.0,380.9 527.2,383.0 529.4,385.0 531.6,386.3 533.8,387.4 536.0,388.0 538.2,388.5 540.5,390.1 542.7,392.8 544.9,395.7 547.1,397.7 549.3,398.9 551.4,400.3 553.6,401.3 555.8,402.4 558.0,404.1 560.1,405.6 562.3,407.5 564.5,410.4 566.6,413.0 568.8,414.1 570.9,414.8 573.0,416.0 575.2,417.9 577.3,419.6 579.4,420.5 581.6,421.3 583.7,422.3 585.9,423.5 588.0,424.8 590.2,426.1 592.3,427.0 594.5,428.5 596.7,430.3 598.8,431.6 601.0,432.1 603.1,431.5 605.2,430.6 607.3,430.7 609.4,431.2 611.4,431.8 613.5,431.8 616.7,441.1 672.5,441.1" stroke="#0072BD" stroke-width="1.0" fill="none" stroke-opacity="1.0" stroke-linejoin="round"/>
<polyline points="42.5,434.9 46.4,434.3 48.6,434.6 50.8,435.4 53.0,435.5 55.2,433.7 57.4,431.7 59.6,429.9 61.8,428.0 63.9,426.3 66.1,425.2 68.2,424.6 70.4,424.0 72.5,423.4 74.7,422.7 76.8,421.6 79.0,420.2 81.1,418.3 83.3,416.7 85.4,415.9 87.5,415.8 89.7,415.2 91.8,413.4 94.0,412.1 96.1,412.2 98.3,413.0 100.5,413.1 102.6,412.6 104.8,412.2 107.0,412.0 109.4,412.3 111.9,412.4 114.3,412.1 116.8,411.7 119.2,411.6 121.6,410.3 123.9,408.9 126.3,408.2 128.6,407.5 131.0,406.8 133.3,406.0 135.4,403.8 137.5,401.6 139.6,399.6 141.7,397.8 143.8,395.9 145.9,392.8 148.0,389.8 150.1,386.8 152.2,383.5 154.2,380.4 156.8,375.3 159.3,369.6 161.9,364.1 164.4,359.3 166.4,356.0 168.4,353.0 170.5,349.0 172.5,343.9 174.5,338.6 176.4,335.2 178.4,332.7 180.3,330.6 182.2,328.4 184.2,325.7 186.1,323.4 188.0,321.6 189.9,320.2 191.8,318.9 193.7,317.0 196.2,314.9 198.6,313.7 200.8,313.4 202.9,312.0 205.4,312.2 207.8,312.2 210.2,314.1 212.6,317.0 215.3,320.6 218.0,324.3 220.0,326.1 222.1,328.0 224.2,329.9 226.3,331.6 228.2,331.5 230.1,330.6 232.0,330.6 233.9,330.9 235.8,330.9 237.9,329.9 240.1,329.8 242.2,329.8 244.4,330.1 246.5,329.6 248.7,328.0 250.7,327.5 252.7,327.1 254.8,326.6 256.8,326.3 258.8,326.7 260.9,327.7 262.9,328.2 265.0,327.8 267.1,327.3 269.2,327.1 271.3,327.2 273.5,327.0 275.6,326.9 277.8,326.6 279.9,326.8 282.1,328.0 284.4,328.0 286.7,327.6 289.0,326.6 291.3,325.7 293.6,325.0 295.9,323.6 298.3,321.4 300.6,319.6 303.0,318.4 305.3,317.7 307.6,316.9 310.0,315.3 312.3,314.7 314.6,314.6 317.0,315.1 319.3,315.6 321.6,315.9 323.9,315.4 326.2,314.2 328.5,313.7 330.7,313.6 333.0,313.3 335.3,312.6 337.5,311.9 339.6,311.8 341.6,312.3 343.6,312.8 345.6,312.2 347.6,310.5 349.6,311.4 351.6,313.6 353.6,316.1 355.5,318.5 357.4,320.4 359.4,324.2 361.3,328.4 363.3,332.9 365.2,337.4 367.1,341.2 369.0,345.0 371.0,349.4 372.9,354.3 374.8,359.2 376.7,364.6 379.1,371.3 381.4,377.3 383.8,382.5 386.2,387.8 388.1,392.2 390.0,396.9 391.9,401.6 393.9,406.4 395.8,411.5 397.8,413.6 399.9,415.4 401.9,417.2 404.0,419.0 406.1,420.9 408.3,421.9 410.5,422.3 412.7,422.9 414.9,423.7 417.1,425.0 419.4,426.8 421.6,428.3 423.9,429.0 426.1,428.0 428.4,427.7 430.6,427.7 432.9,427.4 435.1,427.0 437.4,426.3 439.6,425.0 441.9,424.6 444.1,425.0 446.3,425.4 448.5,424.9 450.7,423.4 452.9,422.5 455.1,422.2 457.2,421.5 459.4,420.9 461.6,420.9 463.7,420.2 465.9,419.1 468.0,418.4 470.2,418.3 472.3,418.1 474.5,419.1 476.6,419.9 478.8,420.2 480.9,421.0 483.1,421.2 485.2,420.3 487.4,420.1 489.6,420.8 491.8,421.7 494.0,422.8 496.3,423.1 498.5,422.7 500.7,422.3 503.0,422.8 505.2,423.7 507.5,424.3 509.8,424.5 512.0,424.5 514.3,424.1 516.6,423.7 518.9,423.5 521.1,423.7 523.4,424.1 525.8,424.2 528.1,424.4 530.4,424.7 532.7,424.9 535.0,425.5 537.3,426.4 539.6,426.8 541.9,427.0 544.2,427.2 546.5,426.9 548.9,426.3 551.2,426.6 553.5,427.3 555.8,427.3 558.1,427.5 560.3,427.9 562.6,428.4 564.9,429.2 567.2,429.3 569.5,428.3 571.7,427.8 574.0,428.4 576.2,429.3 578.5,429.4 580.7,428.8 582.9,428.8 585.1,429.5 587.3,429.9 589.5,430.3 591.7,430.8 593.9,430.9 596.0,431.1 598.2,431.1 600.3,430.3 602.5,429.9 604.6,429.9 606.7,429.4 608.9,430.2 611.1,431.7 613.2,433.4 615.2,441.1 672.5,441.1" stroke="#D95319" stroke-width="1.0" fill="none" stroke-opacity="1.0" stroke-linejoin="round"/>
<path d="M40.0 304.2H672.5" stroke="#c41e30" stroke-width="1" stroke-dasharray="1.1 2.35" fill="none"/>
<text transform="translate(51.80 312.70) scale(1.03 1)" class="mn" text-anchor="start">mean</text>
<text transform="translate(355.45 264.60) scale(1.05 1)" class="tt" text-anchor="middle">Pump 2</text>
<text transform="translate(356.05 475.30) scale(1.05 1)" class="lb" text-anchor="middle">Time (s)</text>
<text transform="translate(15.10 355.60) rotate(-90) scale(1.0 1)" class="yl" text-anchor="middle">Flow (L/s)</text>
<rect x="684.4" y="5.4" width="64.8" height="224.0" fill="#fff" stroke="#262626" stroke-width="1"/>
<path d="M688 13.20H712.7" stroke="#0072BD" stroke-width="1"/>
<text transform="translate(715.40 17.40) scale(1.1 1)" class="lg" text-anchor="start">data1</text>
<path d="M688 27.07H712.7" stroke="#D95319" stroke-width="1"/>
<text transform="translate(715.40 31.27) scale(1.1 1)" class="lg" text-anchor="start">data2</text>
<path d="M688 40.94H712.7" stroke="#EDB120" stroke-width="1"/>
<text transform="translate(715.40 45.14) scale(1.1 1)" class="lg" text-anchor="start">data3</text>
<path d="M688 54.81H712.7" stroke="#7E2F8E" stroke-width="1"/>
<text transform="translate(715.40 59.01) scale(1.1 1)" class="lg" text-anchor="start">data4</text>
<path d="M688 68.68H712.7" stroke="#77AC30" stroke-width="1"/>
<text transform="translate(715.40 72.88) scale(1.1 1)" class="lg" text-anchor="start">data5</text>
<path d="M688 82.55H712.7" stroke="#4DBEEE" stroke-width="1"/>
<text transform="translate(715.40 86.75) scale(1.1 1)" class="lg" text-anchor="start">data6</text>
<path d="M688 96.42H712.7" stroke="#A2142F" stroke-width="1"/>
<text transform="translate(715.40 100.62) scale(1.1 1)" class="lg" text-anchor="start">data7</text>
<path d="M688 110.29H712.7" stroke="#0072BD" stroke-width="1"/>
<text transform="translate(715.40 114.49) scale(1.1 1)" class="lg" text-anchor="start">data8</text>
<path d="M688 124.16H712.7" stroke="#D95319" stroke-width="1"/>
<text transform="translate(715.40 128.36) scale(1.1 1)" class="lg" text-anchor="start">data9</text>
<path d="M688 138.03H712.7" stroke="#EDB120" stroke-width="1"/>
<text transform="translate(715.40 142.23) scale(1.1 1)" class="lg" text-anchor="start">data10</text>
<path d="M688 151.90H712.7" stroke="#7E2F8E" stroke-width="1"/>
<text transform="translate(715.40 156.10) scale(1.1 1)" class="lg" text-anchor="start">data11</text>
<path d="M688 165.77H712.7" stroke="#77AC30" stroke-width="1"/>
<text transform="translate(715.40 169.97) scale(1.1 1)" class="lg" text-anchor="start">data12</text>
<path d="M688 179.64H712.7" stroke="#4DBEEE" stroke-width="1"/>
<text transform="translate(715.40 183.84) scale(1.1 1)" class="lg" text-anchor="start">data13</text>
<path d="M688 193.51H712.7" stroke="#A2142F" stroke-width="1"/>
<text transform="translate(715.40 197.71) scale(1.1 1)" class="lg" text-anchor="start">data14</text>
<path d="M688 207.38H712.7" stroke="#0072BD" stroke-width="1"/>
<text transform="translate(715.40 211.58) scale(1.1 1)" class="lg" text-anchor="start">data15</text>
<path d="M688 221.25H712.7" stroke="#D95319" stroke-width="1"/>
<text transform="translate(715.40 225.45) scale(1.1 1)" class="lg" text-anchor="start">data16</text>
<rect x="684.4" y="243.0" width="64.8" height="223.7" fill="#fff" stroke="#262626" stroke-width="1"/>
<path d="M688 251.00H712.7" stroke="#0072BD" stroke-width="1"/>
<text transform="translate(715.40 255.20) scale(1.1 1)" class="lg" text-anchor="start">data1</text>
<path d="M688 264.87H712.7" stroke="#D95319" stroke-width="1"/>
<text transform="translate(715.40 269.07) scale(1.1 1)" class="lg" text-anchor="start">data2</text>
<path d="M688 278.74H712.7" stroke="#EDB120" stroke-width="1"/>
<text transform="translate(715.40 282.94) scale(1.1 1)" class="lg" text-anchor="start">data3</text>
<path d="M688 292.61H712.7" stroke="#7E2F8E" stroke-width="1"/>
<text transform="translate(715.40 296.81) scale(1.1 1)" class="lg" text-anchor="start">data4</text>
<path d="M688 306.48H712.7" stroke="#77AC30" stroke-width="1"/>
<text transform="translate(715.40 310.68) scale(1.1 1)" class="lg" text-anchor="start">data5</text>
<path d="M688 320.35H712.7" stroke="#4DBEEE" stroke-width="1"/>
<text transform="translate(715.40 324.55) scale(1.1 1)" class="lg" text-anchor="start">data6</text>
<path d="M688 334.22H712.7" stroke="#A2142F" stroke-width="1"/>
<text transform="translate(715.40 338.42) scale(1.1 1)" class="lg" text-anchor="start">data7</text>
<path d="M688 348.09H712.7" stroke="#0072BD" stroke-width="1"/>
<text transform="translate(715.40 352.29) scale(1.1 1)" class="lg" text-anchor="start">data8</text>
<path d="M688 361.96H712.7" stroke="#D95319" stroke-width="1"/>
<text transform="translate(715.40 366.16) scale(1.1 1)" class="lg" text-anchor="start">data9</text>
<path d="M688 375.83H712.7" stroke="#EDB120" stroke-width="1"/>
<text transform="translate(715.40 380.03) scale(1.1 1)" class="lg" text-anchor="start">data10</text>
<path d="M688 389.70H712.7" stroke="#7E2F8E" stroke-width="1"/>
<text transform="translate(715.40 393.90) scale(1.1 1)" class="lg" text-anchor="start">data11</text>
<path d="M688 403.57H712.7" stroke="#77AC30" stroke-width="1"/>
<text transform="translate(715.40 407.77) scale(1.1 1)" class="lg" text-anchor="start">data12</text>
<path d="M688 417.44H712.7" stroke="#4DBEEE" stroke-width="1"/>
<text transform="translate(715.40 421.64) scale(1.1 1)" class="lg" text-anchor="start">data13</text>
<path d="M688 431.31H712.7" stroke="#A2142F" stroke-width="1"/>
<text transform="translate(715.40 435.51) scale(1.1 1)" class="lg" text-anchor="start">data14</text>
<path d="M688 445.18H712.7" stroke="#0072BD" stroke-width="1"/>
<text transform="translate(715.40 449.38) scale(1.1 1)" class="lg" text-anchor="start">data15</text>
<path d="M688 459.05H712.7" stroke="#D95319" stroke-width="1"/>
<text transform="translate(715.40 463.25) scale(1.1 1)" class="lg" text-anchor="start">data16</text>
</g></svg></body></html>
